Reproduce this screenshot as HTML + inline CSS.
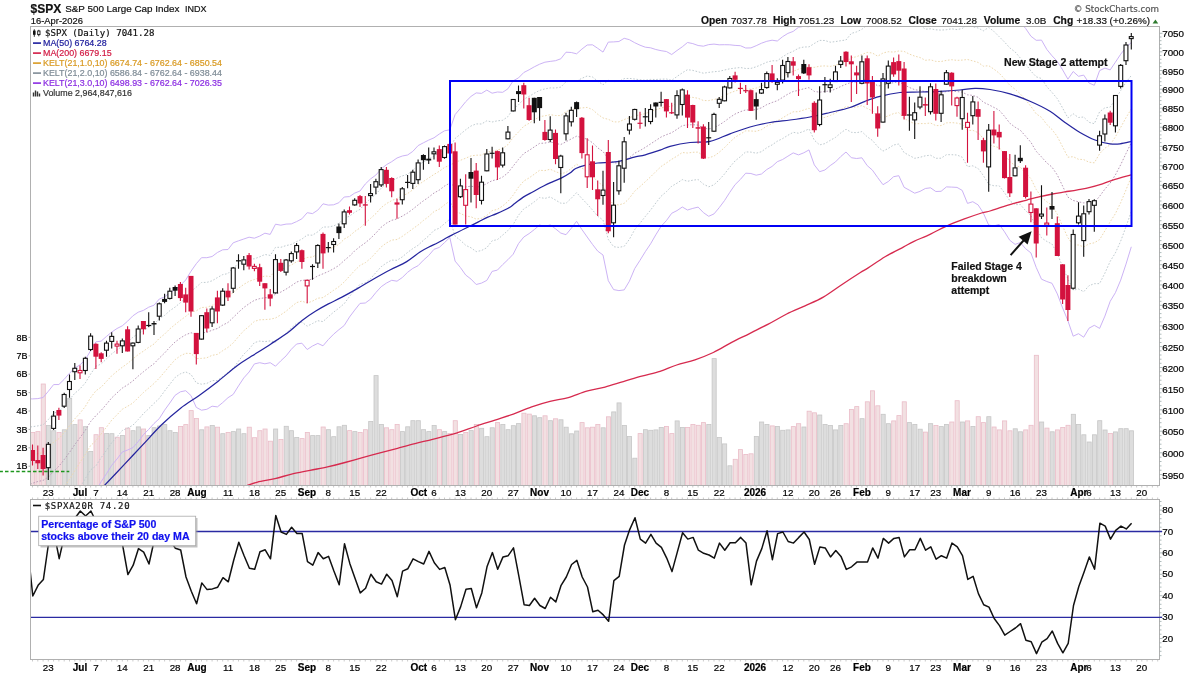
<!DOCTYPE html>
<html><head><meta charset="utf-8"><title>$SPX chart</title><style>html,body{margin:0;padding:0;background:#fff;width:1200px;height:675px;overflow:hidden}svg{display:block}</style></head><body>
<svg width="1200" height="675" viewBox="0 0 1200 675" style="will-change:transform">
<defs><clipPath id="mc"><rect x="31" y="27" width="1128" height="458"/></clipPath><clipPath id="ic"><rect x="31" y="500" width="1128" height="159.5"/></clipPath></defs>
<rect width="1200" height="675" fill="#fff"/>
<text x="30.6" y="12.8" font-family="Liberation Sans, Arial, sans-serif" font-size="12" font-weight="bold" fill="#111" stroke="#111" stroke-width="0.2">$SPX</text>
<text x="65.2" y="12.2" font-family="Liberation Sans, Arial, sans-serif" font-size="9.85" fill="#111" stroke="#111" stroke-width="0.2">S&amp;P 500 Large Cap Index</text>
<text x="185" y="12.2" font-family="Liberation Sans, Arial, sans-serif" font-size="9.0" fill="#111" stroke="#111" stroke-width="0.2">INDX</text>
<text x="30.8" y="24.2" font-family="Liberation Sans, Arial, sans-serif" font-size="9.4" fill="#111" stroke="#111" stroke-width="0.2">16-Apr-2026</text>
<text x="1159" y="12.3" text-anchor="end" font-family="DejaVu Sans, Verdana, sans-serif" font-size="8.7" fill="#555" stroke="#555" stroke-width="0.2">&#169; StockCharts.com</text>
<text x="701" y="24.2" font-family="Liberation Sans, Arial, sans-serif" font-size="10.3" font-weight="bold" fill="#111" stroke="#111" stroke-width="0.2">Open</text>
<text x="731" y="24.2" font-family="Liberation Sans, Arial, sans-serif" font-size="9.9"  fill="#111" stroke="#111" stroke-width="0.2">7037.78</text>
<text x="773" y="24.2" font-family="Liberation Sans, Arial, sans-serif" font-size="10.3" font-weight="bold" fill="#111" stroke="#111" stroke-width="0.2">High</text>
<text x="798.6" y="24.2" font-family="Liberation Sans, Arial, sans-serif" font-size="9.9"  fill="#111" stroke="#111" stroke-width="0.2">7051.23</text>
<text x="840.4" y="24.2" font-family="Liberation Sans, Arial, sans-serif" font-size="10.3" font-weight="bold" fill="#111" stroke="#111" stroke-width="0.2">Low</text>
<text x="866" y="24.2" font-family="Liberation Sans, Arial, sans-serif" font-size="9.9"  fill="#111" stroke="#111" stroke-width="0.2">7008.52</text>
<text x="908.6" y="24.2" font-family="Liberation Sans, Arial, sans-serif" font-size="10.3" font-weight="bold" fill="#111" stroke="#111" stroke-width="0.2">Close</text>
<text x="941.2" y="24.2" font-family="Liberation Sans, Arial, sans-serif" font-size="9.9"  fill="#111" stroke="#111" stroke-width="0.2">7041.28</text>
<text x="983.8" y="24.2" font-family="Liberation Sans, Arial, sans-serif" font-size="10.3" font-weight="bold" fill="#111" stroke="#111" stroke-width="0.2">Volume</text>
<text x="1026" y="24.2" font-family="Liberation Sans, Arial, sans-serif" font-size="9.9"  fill="#111" stroke="#111" stroke-width="0.2">3.0B</text>
<text x="1053.2" y="24.2" font-family="Liberation Sans, Arial, sans-serif" font-size="10.3" font-weight="bold" fill="#111" stroke="#111" stroke-width="0.2">Chg</text>
<text x="1076.4" y="24.2" font-family="Liberation Sans, Arial, sans-serif" font-size="9.9"  fill="#111" stroke="#111" stroke-width="0.2">+18.33 (+0.26%)</text>
<polygon points="1152.6,23.5 1158.2,23.5 1155.4,19.4" fill="#2d7a2d"/>
<rect x="30.5" y="26.5" width="1129" height="459" fill="#fff" stroke="#b0b0b0" stroke-width="1"/>
<rect x="30.5" y="499.5" width="1129" height="160" fill="#fff" stroke="#b0b0b0" stroke-width="1"/>
<path d="M32.5 486v1.5M32.5 499v-1.5M32.5 660v1.5M37.8 486v1.5M37.8 499v-1.5M37.8 660v1.5M43.1 486v1.5M43.1 499v-1.5M43.1 660v1.5M48.3 486v1.5M48.3 499v-1.5M48.3 660v1.5M53.6 486v1.5M53.6 499v-1.5M53.6 660v1.5M58.9 486v1.5M58.9 499v-1.5M58.9 660v1.5M64.2 486v1.5M64.2 499v-1.5M64.2 660v1.5M69.5 486v1.5M69.5 499v-1.5M69.5 660v1.5M74.8 486v1.5M74.8 499v-1.5M74.8 660v1.5M80 486v1.5M80 499v-1.5M80 660v1.5M85.3 486v1.5M85.3 499v-1.5M85.3 660v1.5M90.6 486v1.5M90.6 499v-1.5M90.6 660v1.5M95.9 486v1.5M95.9 499v-1.5M95.9 660v1.5M101.2 486v1.5M101.2 499v-1.5M101.2 660v1.5M106.5 486v1.5M106.5 499v-1.5M106.5 660v1.5M111.7 486v1.5M111.7 499v-1.5M111.7 660v1.5M117 486v1.5M117 499v-1.5M117 660v1.5M122.3 486v1.5M122.3 499v-1.5M122.3 660v1.5M127.6 486v1.5M127.6 499v-1.5M127.6 660v1.5M132.9 486v1.5M132.9 499v-1.5M132.9 660v1.5M138.2 486v1.5M138.2 499v-1.5M138.2 660v1.5M143.4 486v1.5M143.4 499v-1.5M143.4 660v1.5M148.7 486v1.5M148.7 499v-1.5M148.7 660v1.5M154 486v1.5M154 499v-1.5M154 660v1.5M159.3 486v1.5M159.3 499v-1.5M159.3 660v1.5M164.6 486v1.5M164.6 499v-1.5M164.6 660v1.5M169.8 486v1.5M169.8 499v-1.5M169.8 660v1.5M175.1 486v1.5M175.1 499v-1.5M175.1 660v1.5M180.4 486v1.5M180.4 499v-1.5M180.4 660v1.5M185.7 486v1.5M185.7 499v-1.5M185.7 660v1.5M191 486v1.5M191 499v-1.5M191 660v1.5M196.3 486v1.5M196.3 499v-1.5M196.3 660v1.5M201.5 486v1.5M201.5 499v-1.5M201.5 660v1.5M206.8 486v1.5M206.8 499v-1.5M206.8 660v1.5M212.1 486v1.5M212.1 499v-1.5M212.1 660v1.5M217.4 486v1.5M217.4 499v-1.5M217.4 660v1.5M222.7 486v1.5M222.7 499v-1.5M222.7 660v1.5M228 486v1.5M228 499v-1.5M228 660v1.5M233.2 486v1.5M233.2 499v-1.5M233.2 660v1.5M238.5 486v1.5M238.5 499v-1.5M238.5 660v1.5M243.8 486v1.5M243.8 499v-1.5M243.8 660v1.5M249.1 486v1.5M249.1 499v-1.5M249.1 660v1.5M254.4 486v1.5M254.4 499v-1.5M254.4 660v1.5M259.7 486v1.5M259.7 499v-1.5M259.7 660v1.5M264.9 486v1.5M264.9 499v-1.5M264.9 660v1.5M270.2 486v1.5M270.2 499v-1.5M270.2 660v1.5M275.5 486v1.5M275.5 499v-1.5M275.5 660v1.5M280.8 486v1.5M280.8 499v-1.5M280.8 660v1.5M286.1 486v1.5M286.1 499v-1.5M286.1 660v1.5M291.3 486v1.5M291.3 499v-1.5M291.3 660v1.5M296.6 486v1.5M296.6 499v-1.5M296.6 660v1.5M301.9 486v1.5M301.9 499v-1.5M301.9 660v1.5M307.2 486v1.5M307.2 499v-1.5M307.2 660v1.5M312.5 486v1.5M312.5 499v-1.5M312.5 660v1.5M317.8 486v1.5M317.8 499v-1.5M317.8 660v1.5M323 486v1.5M323 499v-1.5M323 660v1.5M328.3 486v1.5M328.3 499v-1.5M328.3 660v1.5M333.6 486v1.5M333.6 499v-1.5M333.6 660v1.5M338.9 486v1.5M338.9 499v-1.5M338.9 660v1.5M344.2 486v1.5M344.2 499v-1.5M344.2 660v1.5M349.5 486v1.5M349.5 499v-1.5M349.5 660v1.5M354.7 486v1.5M354.7 499v-1.5M354.7 660v1.5M360 486v1.5M360 499v-1.5M360 660v1.5M365.3 486v1.5M365.3 499v-1.5M365.3 660v1.5M370.6 486v1.5M370.6 499v-1.5M370.6 660v1.5M375.9 486v1.5M375.9 499v-1.5M375.9 660v1.5M381.2 486v1.5M381.2 499v-1.5M381.2 660v1.5M386.4 486v1.5M386.4 499v-1.5M386.4 660v1.5M391.7 486v1.5M391.7 499v-1.5M391.7 660v1.5M397 486v1.5M397 499v-1.5M397 660v1.5M402.3 486v1.5M402.3 499v-1.5M402.3 660v1.5M407.6 486v1.5M407.6 499v-1.5M407.6 660v1.5M412.8 486v1.5M412.8 499v-1.5M412.8 660v1.5M418.1 486v1.5M418.1 499v-1.5M418.1 660v1.5M423.4 486v1.5M423.4 499v-1.5M423.4 660v1.5M428.7 486v1.5M428.7 499v-1.5M428.7 660v1.5M434 486v1.5M434 499v-1.5M434 660v1.5M439.3 486v1.5M439.3 499v-1.5M439.3 660v1.5M444.5 486v1.5M444.5 499v-1.5M444.5 660v1.5M449.8 486v1.5M449.8 499v-1.5M449.8 660v1.5M455.1 486v1.5M455.1 499v-1.5M455.1 660v1.5M460.4 486v1.5M460.4 499v-1.5M460.4 660v1.5M465.7 486v1.5M465.7 499v-1.5M465.7 660v1.5M471 486v1.5M471 499v-1.5M471 660v1.5M476.2 486v1.5M476.2 499v-1.5M476.2 660v1.5M481.5 486v1.5M481.5 499v-1.5M481.5 660v1.5M486.8 486v1.5M486.8 499v-1.5M486.8 660v1.5M492.1 486v1.5M492.1 499v-1.5M492.1 660v1.5M497.4 486v1.5M497.4 499v-1.5M497.4 660v1.5M502.7 486v1.5M502.7 499v-1.5M502.7 660v1.5M507.9 486v1.5M507.9 499v-1.5M507.9 660v1.5M513.2 486v1.5M513.2 499v-1.5M513.2 660v1.5M518.5 486v1.5M518.5 499v-1.5M518.5 660v1.5M523.8 486v1.5M523.8 499v-1.5M523.8 660v1.5M529.1 486v1.5M529.1 499v-1.5M529.1 660v1.5M534.3 486v1.5M534.3 499v-1.5M534.3 660v1.5M539.6 486v1.5M539.6 499v-1.5M539.6 660v1.5M544.9 486v1.5M544.9 499v-1.5M544.9 660v1.5M550.2 486v1.5M550.2 499v-1.5M550.2 660v1.5M555.5 486v1.5M555.5 499v-1.5M555.5 660v1.5M560.8 486v1.5M560.8 499v-1.5M560.8 660v1.5M566 486v1.5M566 499v-1.5M566 660v1.5M571.3 486v1.5M571.3 499v-1.5M571.3 660v1.5M576.6 486v1.5M576.6 499v-1.5M576.6 660v1.5M581.9 486v1.5M581.9 499v-1.5M581.9 660v1.5M587.2 486v1.5M587.2 499v-1.5M587.2 660v1.5M592.5 486v1.5M592.5 499v-1.5M592.5 660v1.5M597.7 486v1.5M597.7 499v-1.5M597.7 660v1.5M603 486v1.5M603 499v-1.5M603 660v1.5M608.3 486v1.5M608.3 499v-1.5M608.3 660v1.5M613.6 486v1.5M613.6 499v-1.5M613.6 660v1.5M618.9 486v1.5M618.9 499v-1.5M618.9 660v1.5M624.2 486v1.5M624.2 499v-1.5M624.2 660v1.5M629.4 486v1.5M629.4 499v-1.5M629.4 660v1.5M634.7 486v1.5M634.7 499v-1.5M634.7 660v1.5M640 486v1.5M640 499v-1.5M640 660v1.5M645.3 486v1.5M645.3 499v-1.5M645.3 660v1.5M650.6 486v1.5M650.6 499v-1.5M650.6 660v1.5M655.8 486v1.5M655.8 499v-1.5M655.8 660v1.5M661.1 486v1.5M661.1 499v-1.5M661.1 660v1.5M666.4 486v1.5M666.4 499v-1.5M666.4 660v1.5M671.7 486v1.5M671.7 499v-1.5M671.7 660v1.5M677 486v1.5M677 499v-1.5M677 660v1.5M682.3 486v1.5M682.3 499v-1.5M682.3 660v1.5M687.5 486v1.5M687.5 499v-1.5M687.5 660v1.5M692.8 486v1.5M692.8 499v-1.5M692.8 660v1.5M698.1 486v1.5M698.1 499v-1.5M698.1 660v1.5M703.4 486v1.5M703.4 499v-1.5M703.4 660v1.5M708.7 486v1.5M708.7 499v-1.5M708.7 660v1.5M714 486v1.5M714 499v-1.5M714 660v1.5M719.2 486v1.5M719.2 499v-1.5M719.2 660v1.5M724.5 486v1.5M724.5 499v-1.5M724.5 660v1.5M729.8 486v1.5M729.8 499v-1.5M729.8 660v1.5M735.1 486v1.5M735.1 499v-1.5M735.1 660v1.5M740.4 486v1.5M740.4 499v-1.5M740.4 660v1.5M745.7 486v1.5M745.7 499v-1.5M745.7 660v1.5M750.9 486v1.5M750.9 499v-1.5M750.9 660v1.5M756.2 486v1.5M756.2 499v-1.5M756.2 660v1.5M761.5 486v1.5M761.5 499v-1.5M761.5 660v1.5M766.8 486v1.5M766.8 499v-1.5M766.8 660v1.5M772.1 486v1.5M772.1 499v-1.5M772.1 660v1.5M777.3 486v1.5M777.3 499v-1.5M777.3 660v1.5M782.6 486v1.5M782.6 499v-1.5M782.6 660v1.5M787.9 486v1.5M787.9 499v-1.5M787.9 660v1.5M793.2 486v1.5M793.2 499v-1.5M793.2 660v1.5M798.5 486v1.5M798.5 499v-1.5M798.5 660v1.5M803.8 486v1.5M803.8 499v-1.5M803.8 660v1.5M809 486v1.5M809 499v-1.5M809 660v1.5M814.3 486v1.5M814.3 499v-1.5M814.3 660v1.5M819.6 486v1.5M819.6 499v-1.5M819.6 660v1.5M824.9 486v1.5M824.9 499v-1.5M824.9 660v1.5M830.2 486v1.5M830.2 499v-1.5M830.2 660v1.5M835.5 486v1.5M835.5 499v-1.5M835.5 660v1.5M840.7 486v1.5M840.7 499v-1.5M840.7 660v1.5M846 486v1.5M846 499v-1.5M846 660v1.5M851.3 486v1.5M851.3 499v-1.5M851.3 660v1.5M856.6 486v1.5M856.6 499v-1.5M856.6 660v1.5M861.9 486v1.5M861.9 499v-1.5M861.9 660v1.5M867.2 486v1.5M867.2 499v-1.5M867.2 660v1.5M872.4 486v1.5M872.4 499v-1.5M872.4 660v1.5M877.7 486v1.5M877.7 499v-1.5M877.7 660v1.5M883 486v1.5M883 499v-1.5M883 660v1.5M888.3 486v1.5M888.3 499v-1.5M888.3 660v1.5M893.6 486v1.5M893.6 499v-1.5M893.6 660v1.5M898.8 486v1.5M898.8 499v-1.5M898.8 660v1.5M904.1 486v1.5M904.1 499v-1.5M904.1 660v1.5M909.4 486v1.5M909.4 499v-1.5M909.4 660v1.5M914.7 486v1.5M914.7 499v-1.5M914.7 660v1.5M920 486v1.5M920 499v-1.5M920 660v1.5M925.3 486v1.5M925.3 499v-1.5M925.3 660v1.5M930.5 486v1.5M930.5 499v-1.5M930.5 660v1.5M935.8 486v1.5M935.8 499v-1.5M935.8 660v1.5M941.1 486v1.5M941.1 499v-1.5M941.1 660v1.5M946.4 486v1.5M946.4 499v-1.5M946.4 660v1.5M951.7 486v1.5M951.7 499v-1.5M951.7 660v1.5M957 486v1.5M957 499v-1.5M957 660v1.5M962.2 486v1.5M962.2 499v-1.5M962.2 660v1.5M967.5 486v1.5M967.5 499v-1.5M967.5 660v1.5M972.8 486v1.5M972.8 499v-1.5M972.8 660v1.5M978.1 486v1.5M978.1 499v-1.5M978.1 660v1.5M983.4 486v1.5M983.4 499v-1.5M983.4 660v1.5M988.7 486v1.5M988.7 499v-1.5M988.7 660v1.5M993.9 486v1.5M993.9 499v-1.5M993.9 660v1.5M999.2 486v1.5M999.2 499v-1.5M999.2 660v1.5M1004.5 486v1.5M1004.5 499v-1.5M1004.5 660v1.5M1009.8 486v1.5M1009.8 499v-1.5M1009.8 660v1.5M1015.1 486v1.5M1015.1 499v-1.5M1015.1 660v1.5M1020.3 486v1.5M1020.3 499v-1.5M1020.3 660v1.5M1025.6 486v1.5M1025.6 499v-1.5M1025.6 660v1.5M1030.9 486v1.5M1030.9 499v-1.5M1030.9 660v1.5M1036.2 486v1.5M1036.2 499v-1.5M1036.2 660v1.5M1041.5 486v1.5M1041.5 499v-1.5M1041.5 660v1.5M1046.8 486v1.5M1046.8 499v-1.5M1046.8 660v1.5M1052 486v1.5M1052 499v-1.5M1052 660v1.5M1057.3 486v1.5M1057.3 499v-1.5M1057.3 660v1.5M1062.6 486v1.5M1062.6 499v-1.5M1062.6 660v1.5M1067.9 486v1.5M1067.9 499v-1.5M1067.9 660v1.5M1073.2 486v1.5M1073.2 499v-1.5M1073.2 660v1.5M1078.5 486v1.5M1078.5 499v-1.5M1078.5 660v1.5M1083.7 486v1.5M1083.7 499v-1.5M1083.7 660v1.5M1089 486v1.5M1089 499v-1.5M1089 660v1.5M1094.3 486v1.5M1094.3 499v-1.5M1094.3 660v1.5M1099.6 486v1.5M1099.6 499v-1.5M1099.6 660v1.5M1104.9 486v1.5M1104.9 499v-1.5M1104.9 660v1.5M1110.2 486v1.5M1110.2 499v-1.5M1110.2 660v1.5M1115.4 486v1.5M1115.4 499v-1.5M1115.4 660v1.5M1120.7 486v1.5M1120.7 499v-1.5M1120.7 660v1.5M1126 486v1.5M1126 499v-1.5M1126 660v1.5M1131.3 486v1.5M1131.3 499v-1.5M1131.3 660v1.5M1136.6 486v1.5M1136.6 499v-1.5M1136.6 660v1.5M1141.8 486v1.5M1141.8 499v-1.5M1141.8 660v1.5M1147.1 486v1.5M1147.1 499v-1.5M1147.1 660v1.5M1152.4 486v1.5M1152.4 499v-1.5M1152.4 660v1.5M1157.7 486v1.5M1157.7 499v-1.5M1157.7 660v1.5" stroke="#c4c4c4" stroke-width="0.9" fill="none"/>
<path d="M1159.5 479h2M1159.5 474.6h3M1159.5 470.2h2M1159.5 465.9h2M1159.5 461.5h2M1159.5 457.2h2M1159.5 452.8h3M1159.5 448.5h2M1159.5 444.2h2M1159.5 439.9h2M1159.5 435.6h2M1159.5 431.2h3M1159.5 427h2M1159.5 422.7h2M1159.5 418.4h2M1159.5 414.1h2M1159.5 409.8h3M1159.5 405.6h2M1159.5 401.3h2M1159.5 397.1h2M1159.5 392.8h2M1159.5 388.6h3M1159.5 384.4h2M1159.5 380.2h2M1159.5 375.9h2M1159.5 371.7h2M1159.5 367.5h3M1159.5 363.3h2M1159.5 359.2h2M1159.5 355h2M1159.5 350.8h2M1159.5 346.6h3M1159.5 342.5h2M1159.5 338.3h2M1159.5 334.2h2M1159.5 330h2M1159.5 325.9h3M1159.5 321.8h2M1159.5 317.7h2M1159.5 313.6h2M1159.5 309.4h2M1159.5 305.3h3M1159.5 301.3h2M1159.5 297.2h2M1159.5 293.1h2M1159.5 289h2M1159.5 284.9h3M1159.5 280.9h2M1159.5 276.8h2M1159.5 272.8h2M1159.5 268.7h2M1159.5 264.7h3M1159.5 260.7h2M1159.5 256.6h2M1159.5 252.6h2M1159.5 248.6h2M1159.5 244.6h3M1159.5 240.6h2M1159.5 236.6h2M1159.5 232.6h2M1159.5 228.6h2M1159.5 224.7h3M1159.5 220.7h2M1159.5 216.7h2M1159.5 212.8h2M1159.5 208.8h2M1159.5 204.9h3M1159.5 201h2M1159.5 197h2M1159.5 193.1h2M1159.5 189.2h2M1159.5 185.3h3M1159.5 181.3h2M1159.5 177.4h2M1159.5 173.5h2M1159.5 169.7h2M1159.5 165.8h3M1159.5 161.9h2M1159.5 158h2M1159.5 154.1h2M1159.5 150.3h2M1159.5 146.4h3M1159.5 142.6h2M1159.5 138.7h2M1159.5 134.9h2M1159.5 131.1h2M1159.5 127.2h3M1159.5 123.4h2M1159.5 119.6h2M1159.5 115.8h2M1159.5 112h2M1159.5 108.2h3M1159.5 104.4h2M1159.5 100.6h2M1159.5 96.8h2M1159.5 93h2M1159.5 89.2h3M1159.5 85.5h2M1159.5 81.7h2M1159.5 78h2M1159.5 74.2h2M1159.5 70.5h3M1159.5 66.7h2M1159.5 63h2M1159.5 59.3h2M1159.5 55.5h2M1159.5 51.8h3M1159.5 48.1h2M1159.5 44.4h2M1159.5 40.7h2M1159.5 37h2M1159.5 33.3h3M1159.5 655.6h2M1159.5 651.3h2M1159.5 647.1h2M1159.5 642.8h2M1159.5 638.5h3M1159.5 634.2h2M1159.5 629.9h2M1159.5 625.7h2M1159.5 621.4h2M1159.5 617.1h3M1159.5 612.8h2M1159.5 608.5h2M1159.5 604.3h2M1159.5 600h2M1159.5 595.7h3M1159.5 591.4h2M1159.5 587.1h2M1159.5 582.9h2M1159.5 578.6h2M1159.5 574.3h3M1159.5 570h2M1159.5 565.7h2M1159.5 561.5h2M1159.5 557.2h2M1159.5 552.9h3M1159.5 548.6h2M1159.5 544.3h2M1159.5 540.1h2M1159.5 535.8h2M1159.5 531.5h3M1159.5 527.2h2M1159.5 522.9h2M1159.5 518.7h2M1159.5 514.4h2M1159.5 510.1h3M1159.5 505.8h2M1159.5 501.5h2" stroke="#9aa" stroke-width="0.8" fill="none"/>
<text x="1162.2" y="478.7" font-family="Liberation Sans, Arial, sans-serif" font-size="9.8" fill="#000" stroke="#000" stroke-width="0.2">5950</text>
<text x="1162.2" y="456.9" font-family="Liberation Sans, Arial, sans-serif" font-size="9.8" fill="#000" stroke="#000" stroke-width="0.2">6000</text>
<text x="1162.2" y="435.3" font-family="Liberation Sans, Arial, sans-serif" font-size="9.8" fill="#000" stroke="#000" stroke-width="0.2">6050</text>
<text x="1162.2" y="413.9" font-family="Liberation Sans, Arial, sans-serif" font-size="9.8" fill="#000" stroke="#000" stroke-width="0.2">6100</text>
<text x="1162.2" y="392.7" font-family="Liberation Sans, Arial, sans-serif" font-size="9.8" fill="#000" stroke="#000" stroke-width="0.2">6150</text>
<text x="1162.2" y="371.6" font-family="Liberation Sans, Arial, sans-serif" font-size="9.8" fill="#000" stroke="#000" stroke-width="0.2">6200</text>
<text x="1162.2" y="350.7" font-family="Liberation Sans, Arial, sans-serif" font-size="9.8" fill="#000" stroke="#000" stroke-width="0.2">6250</text>
<text x="1162.2" y="330" font-family="Liberation Sans, Arial, sans-serif" font-size="9.8" fill="#000" stroke="#000" stroke-width="0.2">6300</text>
<text x="1162.2" y="309.4" font-family="Liberation Sans, Arial, sans-serif" font-size="9.8" fill="#000" stroke="#000" stroke-width="0.2">6350</text>
<text x="1162.2" y="289" font-family="Liberation Sans, Arial, sans-serif" font-size="9.8" fill="#000" stroke="#000" stroke-width="0.2">6400</text>
<text x="1162.2" y="268.8" font-family="Liberation Sans, Arial, sans-serif" font-size="9.8" fill="#000" stroke="#000" stroke-width="0.2">6450</text>
<text x="1162.2" y="248.7" font-family="Liberation Sans, Arial, sans-serif" font-size="9.8" fill="#000" stroke="#000" stroke-width="0.2">6500</text>
<text x="1162.2" y="228.8" font-family="Liberation Sans, Arial, sans-serif" font-size="9.8" fill="#000" stroke="#000" stroke-width="0.2">6550</text>
<text x="1162.2" y="209" font-family="Liberation Sans, Arial, sans-serif" font-size="9.8" fill="#000" stroke="#000" stroke-width="0.2">6600</text>
<text x="1162.2" y="189.4" font-family="Liberation Sans, Arial, sans-serif" font-size="9.8" fill="#000" stroke="#000" stroke-width="0.2">6650</text>
<text x="1162.2" y="169.9" font-family="Liberation Sans, Arial, sans-serif" font-size="9.8" fill="#000" stroke="#000" stroke-width="0.2">6700</text>
<text x="1162.2" y="150.5" font-family="Liberation Sans, Arial, sans-serif" font-size="9.8" fill="#000" stroke="#000" stroke-width="0.2">6750</text>
<text x="1162.2" y="131.3" font-family="Liberation Sans, Arial, sans-serif" font-size="9.8" fill="#000" stroke="#000" stroke-width="0.2">6800</text>
<text x="1162.2" y="112.3" font-family="Liberation Sans, Arial, sans-serif" font-size="9.8" fill="#000" stroke="#000" stroke-width="0.2">6850</text>
<text x="1162.2" y="93.3" font-family="Liberation Sans, Arial, sans-serif" font-size="9.8" fill="#000" stroke="#000" stroke-width="0.2">6900</text>
<text x="1162.2" y="74.6" font-family="Liberation Sans, Arial, sans-serif" font-size="9.8" fill="#000" stroke="#000" stroke-width="0.2">6950</text>
<text x="1162.2" y="55.9" font-family="Liberation Sans, Arial, sans-serif" font-size="9.8" fill="#000" stroke="#000" stroke-width="0.2">7000</text>
<text x="1162.2" y="37.4" font-family="Liberation Sans, Arial, sans-serif" font-size="9.8" fill="#000" stroke="#000" stroke-width="0.2">7050</text>
<text x="1162.2" y="513.2" font-family="Liberation Sans, Arial, sans-serif" font-size="9.8" fill="#000" stroke="#000" stroke-width="0.2">80</text>
<text x="1162.2" y="534.6" font-family="Liberation Sans, Arial, sans-serif" font-size="9.8" fill="#000" stroke="#000" stroke-width="0.2">70</text>
<text x="1162.2" y="556" font-family="Liberation Sans, Arial, sans-serif" font-size="9.8" fill="#000" stroke="#000" stroke-width="0.2">60</text>
<text x="1162.2" y="577.4" font-family="Liberation Sans, Arial, sans-serif" font-size="9.8" fill="#000" stroke="#000" stroke-width="0.2">50</text>
<text x="1162.2" y="598.9" font-family="Liberation Sans, Arial, sans-serif" font-size="9.8" fill="#000" stroke="#000" stroke-width="0.2">40</text>
<text x="1162.2" y="620.3" font-family="Liberation Sans, Arial, sans-serif" font-size="9.8" fill="#000" stroke="#000" stroke-width="0.2">30</text>
<text x="1162.2" y="641.7" font-family="Liberation Sans, Arial, sans-serif" font-size="9.8" fill="#000" stroke="#000" stroke-width="0.2">20</text>
<text x="27.4" y="469.4" text-anchor="end" font-family="Liberation Sans, Arial, sans-serif" font-size="9" fill="#000" stroke="#000" stroke-width="0.2">1B</text>
<path d="M30 466.2h-1.5" stroke="#999" stroke-width="0.8"/>
<text x="27.4" y="451" text-anchor="end" font-family="Liberation Sans, Arial, sans-serif" font-size="9" fill="#000" stroke="#000" stroke-width="0.2">2B</text>
<path d="M30 447.8h-1.5" stroke="#999" stroke-width="0.8"/>
<text x="27.4" y="432.6" text-anchor="end" font-family="Liberation Sans, Arial, sans-serif" font-size="9" fill="#000" stroke="#000" stroke-width="0.2">3B</text>
<path d="M30 429.4h-1.5" stroke="#999" stroke-width="0.8"/>
<text x="27.4" y="414.2" text-anchor="end" font-family="Liberation Sans, Arial, sans-serif" font-size="9" fill="#000" stroke="#000" stroke-width="0.2">4B</text>
<path d="M30 411h-1.5" stroke="#999" stroke-width="0.8"/>
<text x="27.4" y="395.8" text-anchor="end" font-family="Liberation Sans, Arial, sans-serif" font-size="9" fill="#000" stroke="#000" stroke-width="0.2">5B</text>
<path d="M30 392.6h-1.5" stroke="#999" stroke-width="0.8"/>
<text x="27.4" y="377.4" text-anchor="end" font-family="Liberation Sans, Arial, sans-serif" font-size="9" fill="#000" stroke="#000" stroke-width="0.2">6B</text>
<path d="M30 374.2h-1.5" stroke="#999" stroke-width="0.8"/>
<text x="27.4" y="359" text-anchor="end" font-family="Liberation Sans, Arial, sans-serif" font-size="9" fill="#000" stroke="#000" stroke-width="0.2">7B</text>
<path d="M30 355.8h-1.5" stroke="#999" stroke-width="0.8"/>
<text x="27.4" y="340.6" text-anchor="end" font-family="Liberation Sans, Arial, sans-serif" font-size="9" fill="#000" stroke="#000" stroke-width="0.2">8B</text>
<path d="M30 337.4h-1.5" stroke="#999" stroke-width="0.8"/>
<text x="48.3" y="496" text-anchor="middle" font-family="Liberation Sans, Arial, sans-serif" font-size="9.8"  fill="#000" stroke="#000" stroke-width="0.2">23</text>
<text x="48.3" y="670.6" text-anchor="middle" font-family="Liberation Sans, Arial, sans-serif" font-size="9.8"  fill="#000" stroke="#000" stroke-width="0.2">23</text>
<text x="80" y="496" text-anchor="middle" font-family="Liberation Sans, Arial, sans-serif" font-size="10" font-weight="bold" fill="#000" stroke="#000" stroke-width="0.2">Jul</text>
<text x="80" y="670.6" text-anchor="middle" font-family="Liberation Sans, Arial, sans-serif" font-size="10" font-weight="bold" fill="#000" stroke="#000" stroke-width="0.2">Jul</text>
<text x="95.9" y="496" text-anchor="middle" font-family="Liberation Sans, Arial, sans-serif" font-size="9.8"  fill="#000" stroke="#000" stroke-width="0.2">7</text>
<text x="95.9" y="670.6" text-anchor="middle" font-family="Liberation Sans, Arial, sans-serif" font-size="9.8"  fill="#000" stroke="#000" stroke-width="0.2">7</text>
<text x="122.3" y="496" text-anchor="middle" font-family="Liberation Sans, Arial, sans-serif" font-size="9.8"  fill="#000" stroke="#000" stroke-width="0.2">14</text>
<text x="122.3" y="670.6" text-anchor="middle" font-family="Liberation Sans, Arial, sans-serif" font-size="9.8"  fill="#000" stroke="#000" stroke-width="0.2">14</text>
<text x="148.7" y="496" text-anchor="middle" font-family="Liberation Sans, Arial, sans-serif" font-size="9.8"  fill="#000" stroke="#000" stroke-width="0.2">21</text>
<text x="148.7" y="670.6" text-anchor="middle" font-family="Liberation Sans, Arial, sans-serif" font-size="9.8"  fill="#000" stroke="#000" stroke-width="0.2">21</text>
<text x="175.1" y="496" text-anchor="middle" font-family="Liberation Sans, Arial, sans-serif" font-size="9.8"  fill="#000" stroke="#000" stroke-width="0.2">28</text>
<text x="175.1" y="670.6" text-anchor="middle" font-family="Liberation Sans, Arial, sans-serif" font-size="9.8"  fill="#000" stroke="#000" stroke-width="0.2">28</text>
<text x="197" y="496" text-anchor="middle" font-family="Liberation Sans, Arial, sans-serif" font-size="10" font-weight="bold" fill="#000" stroke="#000" stroke-width="0.2">Aug</text>
<text x="197" y="670.6" text-anchor="middle" font-family="Liberation Sans, Arial, sans-serif" font-size="10" font-weight="bold" fill="#000" stroke="#000" stroke-width="0.2">Aug</text>
<text x="228" y="496" text-anchor="middle" font-family="Liberation Sans, Arial, sans-serif" font-size="9.8"  fill="#000" stroke="#000" stroke-width="0.2">11</text>
<text x="228" y="670.6" text-anchor="middle" font-family="Liberation Sans, Arial, sans-serif" font-size="9.8"  fill="#000" stroke="#000" stroke-width="0.2">11</text>
<text x="254.4" y="496" text-anchor="middle" font-family="Liberation Sans, Arial, sans-serif" font-size="9.8"  fill="#000" stroke="#000" stroke-width="0.2">18</text>
<text x="254.4" y="670.6" text-anchor="middle" font-family="Liberation Sans, Arial, sans-serif" font-size="9.8"  fill="#000" stroke="#000" stroke-width="0.2">18</text>
<text x="280.8" y="496" text-anchor="middle" font-family="Liberation Sans, Arial, sans-serif" font-size="9.8"  fill="#000" stroke="#000" stroke-width="0.2">25</text>
<text x="280.8" y="670.6" text-anchor="middle" font-family="Liberation Sans, Arial, sans-serif" font-size="9.8"  fill="#000" stroke="#000" stroke-width="0.2">25</text>
<text x="307" y="496" text-anchor="middle" font-family="Liberation Sans, Arial, sans-serif" font-size="10" font-weight="bold" fill="#000" stroke="#000" stroke-width="0.2">Sep</text>
<text x="307" y="670.6" text-anchor="middle" font-family="Liberation Sans, Arial, sans-serif" font-size="10" font-weight="bold" fill="#000" stroke="#000" stroke-width="0.2">Sep</text>
<text x="328.3" y="496" text-anchor="middle" font-family="Liberation Sans, Arial, sans-serif" font-size="9.8"  fill="#000" stroke="#000" stroke-width="0.2">8</text>
<text x="328.3" y="670.6" text-anchor="middle" font-family="Liberation Sans, Arial, sans-serif" font-size="9.8"  fill="#000" stroke="#000" stroke-width="0.2">8</text>
<text x="354.7" y="496" text-anchor="middle" font-family="Liberation Sans, Arial, sans-serif" font-size="9.8"  fill="#000" stroke="#000" stroke-width="0.2">15</text>
<text x="354.7" y="670.6" text-anchor="middle" font-family="Liberation Sans, Arial, sans-serif" font-size="9.8"  fill="#000" stroke="#000" stroke-width="0.2">15</text>
<text x="381.2" y="496" text-anchor="middle" font-family="Liberation Sans, Arial, sans-serif" font-size="9.8"  fill="#000" stroke="#000" stroke-width="0.2">22</text>
<text x="381.2" y="670.6" text-anchor="middle" font-family="Liberation Sans, Arial, sans-serif" font-size="9.8"  fill="#000" stroke="#000" stroke-width="0.2">22</text>
<text x="418.8" y="496" text-anchor="middle" font-family="Liberation Sans, Arial, sans-serif" font-size="10" font-weight="bold" fill="#000" stroke="#000" stroke-width="0.2">Oct</text>
<text x="418.8" y="670.6" text-anchor="middle" font-family="Liberation Sans, Arial, sans-serif" font-size="10" font-weight="bold" fill="#000" stroke="#000" stroke-width="0.2">Oct</text>
<text x="434" y="496" text-anchor="middle" font-family="Liberation Sans, Arial, sans-serif" font-size="9.8"  fill="#000" stroke="#000" stroke-width="0.2">6</text>
<text x="434" y="670.6" text-anchor="middle" font-family="Liberation Sans, Arial, sans-serif" font-size="9.8"  fill="#000" stroke="#000" stroke-width="0.2">6</text>
<text x="460.4" y="496" text-anchor="middle" font-family="Liberation Sans, Arial, sans-serif" font-size="9.8"  fill="#000" stroke="#000" stroke-width="0.2">13</text>
<text x="460.4" y="670.6" text-anchor="middle" font-family="Liberation Sans, Arial, sans-serif" font-size="9.8"  fill="#000" stroke="#000" stroke-width="0.2">13</text>
<text x="486.8" y="496" text-anchor="middle" font-family="Liberation Sans, Arial, sans-serif" font-size="9.8"  fill="#000" stroke="#000" stroke-width="0.2">20</text>
<text x="486.8" y="670.6" text-anchor="middle" font-family="Liberation Sans, Arial, sans-serif" font-size="9.8"  fill="#000" stroke="#000" stroke-width="0.2">20</text>
<text x="513.2" y="496" text-anchor="middle" font-family="Liberation Sans, Arial, sans-serif" font-size="9.8"  fill="#000" stroke="#000" stroke-width="0.2">27</text>
<text x="513.2" y="670.6" text-anchor="middle" font-family="Liberation Sans, Arial, sans-serif" font-size="9.8"  fill="#000" stroke="#000" stroke-width="0.2">27</text>
<text x="539.5" y="496" text-anchor="middle" font-family="Liberation Sans, Arial, sans-serif" font-size="10" font-weight="bold" fill="#000" stroke="#000" stroke-width="0.2">Nov</text>
<text x="539.5" y="670.6" text-anchor="middle" font-family="Liberation Sans, Arial, sans-serif" font-size="10" font-weight="bold" fill="#000" stroke="#000" stroke-width="0.2">Nov</text>
<text x="566" y="496" text-anchor="middle" font-family="Liberation Sans, Arial, sans-serif" font-size="9.8"  fill="#000" stroke="#000" stroke-width="0.2">10</text>
<text x="566" y="670.6" text-anchor="middle" font-family="Liberation Sans, Arial, sans-serif" font-size="9.8"  fill="#000" stroke="#000" stroke-width="0.2">10</text>
<text x="592.5" y="496" text-anchor="middle" font-family="Liberation Sans, Arial, sans-serif" font-size="9.8"  fill="#000" stroke="#000" stroke-width="0.2">17</text>
<text x="592.5" y="670.6" text-anchor="middle" font-family="Liberation Sans, Arial, sans-serif" font-size="9.8"  fill="#000" stroke="#000" stroke-width="0.2">17</text>
<text x="618.9" y="496" text-anchor="middle" font-family="Liberation Sans, Arial, sans-serif" font-size="9.8"  fill="#000" stroke="#000" stroke-width="0.2">24</text>
<text x="618.9" y="670.6" text-anchor="middle" font-family="Liberation Sans, Arial, sans-serif" font-size="9.8"  fill="#000" stroke="#000" stroke-width="0.2">24</text>
<text x="640" y="496" text-anchor="middle" font-family="Liberation Sans, Arial, sans-serif" font-size="10" font-weight="bold" fill="#000" stroke="#000" stroke-width="0.2">Dec</text>
<text x="640" y="670.6" text-anchor="middle" font-family="Liberation Sans, Arial, sans-serif" font-size="10" font-weight="bold" fill="#000" stroke="#000" stroke-width="0.2">Dec</text>
<text x="666.4" y="496" text-anchor="middle" font-family="Liberation Sans, Arial, sans-serif" font-size="9.8"  fill="#000" stroke="#000" stroke-width="0.2">8</text>
<text x="666.4" y="670.6" text-anchor="middle" font-family="Liberation Sans, Arial, sans-serif" font-size="9.8"  fill="#000" stroke="#000" stroke-width="0.2">8</text>
<text x="692.8" y="496" text-anchor="middle" font-family="Liberation Sans, Arial, sans-serif" font-size="9.8"  fill="#000" stroke="#000" stroke-width="0.2">15</text>
<text x="692.8" y="670.6" text-anchor="middle" font-family="Liberation Sans, Arial, sans-serif" font-size="9.8"  fill="#000" stroke="#000" stroke-width="0.2">15</text>
<text x="719.2" y="496" text-anchor="middle" font-family="Liberation Sans, Arial, sans-serif" font-size="9.8"  fill="#000" stroke="#000" stroke-width="0.2">22</text>
<text x="719.2" y="670.6" text-anchor="middle" font-family="Liberation Sans, Arial, sans-serif" font-size="9.8"  fill="#000" stroke="#000" stroke-width="0.2">22</text>
<text x="755" y="496" text-anchor="middle" font-family="Liberation Sans, Arial, sans-serif" font-size="10" font-weight="bold" fill="#000" stroke="#000" stroke-width="0.2">2026</text>
<text x="755" y="670.6" text-anchor="middle" font-family="Liberation Sans, Arial, sans-serif" font-size="10" font-weight="bold" fill="#000" stroke="#000" stroke-width="0.2">2026</text>
<text x="787.9" y="496" text-anchor="middle" font-family="Liberation Sans, Arial, sans-serif" font-size="9.8"  fill="#000" stroke="#000" stroke-width="0.2">12</text>
<text x="787.9" y="670.6" text-anchor="middle" font-family="Liberation Sans, Arial, sans-serif" font-size="9.8"  fill="#000" stroke="#000" stroke-width="0.2">12</text>
<text x="814.3" y="496" text-anchor="middle" font-family="Liberation Sans, Arial, sans-serif" font-size="9.8"  fill="#000" stroke="#000" stroke-width="0.2">20</text>
<text x="814.3" y="670.6" text-anchor="middle" font-family="Liberation Sans, Arial, sans-serif" font-size="9.8"  fill="#000" stroke="#000" stroke-width="0.2">20</text>
<text x="835.5" y="496" text-anchor="middle" font-family="Liberation Sans, Arial, sans-serif" font-size="9.8"  fill="#000" stroke="#000" stroke-width="0.2">26</text>
<text x="835.5" y="670.6" text-anchor="middle" font-family="Liberation Sans, Arial, sans-serif" font-size="9.8"  fill="#000" stroke="#000" stroke-width="0.2">26</text>
<text x="862" y="496" text-anchor="middle" font-family="Liberation Sans, Arial, sans-serif" font-size="10" font-weight="bold" fill="#000" stroke="#000" stroke-width="0.2">Feb</text>
<text x="862" y="670.6" text-anchor="middle" font-family="Liberation Sans, Arial, sans-serif" font-size="10" font-weight="bold" fill="#000" stroke="#000" stroke-width="0.2">Feb</text>
<text x="888.3" y="496" text-anchor="middle" font-family="Liberation Sans, Arial, sans-serif" font-size="9.8"  fill="#000" stroke="#000" stroke-width="0.2">9</text>
<text x="888.3" y="670.6" text-anchor="middle" font-family="Liberation Sans, Arial, sans-serif" font-size="9.8"  fill="#000" stroke="#000" stroke-width="0.2">9</text>
<text x="914.7" y="496" text-anchor="middle" font-family="Liberation Sans, Arial, sans-serif" font-size="9.8"  fill="#000" stroke="#000" stroke-width="0.2">17</text>
<text x="914.7" y="670.6" text-anchor="middle" font-family="Liberation Sans, Arial, sans-serif" font-size="9.8"  fill="#000" stroke="#000" stroke-width="0.2">17</text>
<text x="935.8" y="496" text-anchor="middle" font-family="Liberation Sans, Arial, sans-serif" font-size="9.8"  fill="#000" stroke="#000" stroke-width="0.2">23</text>
<text x="935.8" y="670.6" text-anchor="middle" font-family="Liberation Sans, Arial, sans-serif" font-size="9.8"  fill="#000" stroke="#000" stroke-width="0.2">23</text>
<text x="962" y="496" text-anchor="middle" font-family="Liberation Sans, Arial, sans-serif" font-size="10" font-weight="bold" fill="#000" stroke="#000" stroke-width="0.2">Mar</text>
<text x="962" y="670.6" text-anchor="middle" font-family="Liberation Sans, Arial, sans-serif" font-size="10" font-weight="bold" fill="#000" stroke="#000" stroke-width="0.2">Mar</text>
<text x="988.7" y="496" text-anchor="middle" font-family="Liberation Sans, Arial, sans-serif" font-size="9.8"  fill="#000" stroke="#000" stroke-width="0.2">9</text>
<text x="988.7" y="670.6" text-anchor="middle" font-family="Liberation Sans, Arial, sans-serif" font-size="9.8"  fill="#000" stroke="#000" stroke-width="0.2">9</text>
<text x="1015.1" y="496" text-anchor="middle" font-family="Liberation Sans, Arial, sans-serif" font-size="9.8"  fill="#000" stroke="#000" stroke-width="0.2">16</text>
<text x="1015.1" y="670.6" text-anchor="middle" font-family="Liberation Sans, Arial, sans-serif" font-size="9.8"  fill="#000" stroke="#000" stroke-width="0.2">16</text>
<text x="1041.5" y="496" text-anchor="middle" font-family="Liberation Sans, Arial, sans-serif" font-size="9.8"  fill="#000" stroke="#000" stroke-width="0.2">23</text>
<text x="1041.5" y="670.6" text-anchor="middle" font-family="Liberation Sans, Arial, sans-serif" font-size="9.8"  fill="#000" stroke="#000" stroke-width="0.2">23</text>
<text x="1078.8" y="496" text-anchor="middle" font-family="Liberation Sans, Arial, sans-serif" font-size="10" font-weight="bold" fill="#000" stroke="#000" stroke-width="0.2">Apr</text>
<text x="1078.8" y="670.6" text-anchor="middle" font-family="Liberation Sans, Arial, sans-serif" font-size="10" font-weight="bold" fill="#000" stroke="#000" stroke-width="0.2">Apr</text>
<text x="1089" y="496" text-anchor="middle" font-family="Liberation Sans, Arial, sans-serif" font-size="9.8"  fill="#000" stroke="#000" stroke-width="0.2">6</text>
<text x="1089" y="670.6" text-anchor="middle" font-family="Liberation Sans, Arial, sans-serif" font-size="9.8"  fill="#000" stroke="#000" stroke-width="0.2">6</text>
<text x="1115.4" y="496" text-anchor="middle" font-family="Liberation Sans, Arial, sans-serif" font-size="9.8"  fill="#000" stroke="#000" stroke-width="0.2">13</text>
<text x="1115.4" y="670.6" text-anchor="middle" font-family="Liberation Sans, Arial, sans-serif" font-size="9.8"  fill="#000" stroke="#000" stroke-width="0.2">13</text>
<text x="1141.8" y="496" text-anchor="middle" font-family="Liberation Sans, Arial, sans-serif" font-size="9.8"  fill="#000" stroke="#000" stroke-width="0.2">20</text>
<text x="1141.8" y="670.6" text-anchor="middle" font-family="Liberation Sans, Arial, sans-serif" font-size="9.8"  fill="#000" stroke="#000" stroke-width="0.2">20</text>
<g clip-path="url(#mc)">
<g fill="#dddddd" stroke="#c6c6c6" stroke-width="0.8"><rect x="46.4" y="425.5" width="4.1" height="60.9"/><rect x="51.7" y="430.7" width="4.1" height="55.7"/><rect x="62.3" y="429.8" width="4.1" height="56.6"/><rect x="67.6" y="398.4" width="4.1" height="88"/><rect x="72.9" y="424.6" width="4.1" height="61.8"/><rect x="83.4" y="426.7" width="4.1" height="59.7"/><rect x="88.7" y="451.4" width="4.1" height="35"/><rect x="104.6" y="433.4" width="4.1" height="53"/><rect x="109.8" y="433.7" width="4.1" height="52.7"/><rect x="120.4" y="435.4" width="4.1" height="51"/><rect x="131" y="430.7" width="4.1" height="55.7"/><rect x="136.3" y="426.9" width="4.1" height="59.5"/><rect x="146.8" y="435.4" width="4.1" height="51"/><rect x="152.1" y="427.7" width="4.1" height="58.7"/><rect x="157.4" y="426" width="4.1" height="60.4"/><rect x="162.7" y="424.6" width="4.1" height="61.8"/><rect x="167.9" y="430.7" width="4.1" height="55.7"/><rect x="173.2" y="432.5" width="4.1" height="53.9"/><rect x="199.6" y="429.8" width="4.1" height="56.6"/><rect x="210.2" y="425.5" width="4.1" height="60.9"/><rect x="220.8" y="433.7" width="4.1" height="52.7"/><rect x="231.3" y="431.6" width="4.1" height="54.8"/><rect x="236.6" y="429" width="4.1" height="57.4"/><rect x="241.9" y="433.7" width="4.1" height="52.7"/><rect x="273.6" y="429" width="4.1" height="57.4"/><rect x="284.2" y="426.3" width="4.1" height="60.1"/><rect x="289.4" y="430.7" width="4.1" height="55.7"/><rect x="294.7" y="437.4" width="4.1" height="49"/><rect x="310.6" y="435.6" width="4.1" height="50.8"/><rect x="315.9" y="435.6" width="4.1" height="50.8"/><rect x="326.4" y="429.7" width="4.1" height="56.7"/><rect x="331.7" y="436.7" width="4.1" height="49.7"/><rect x="337" y="426.8" width="4.1" height="59.6"/><rect x="342.3" y="425.3" width="4.1" height="61.1"/><rect x="352.8" y="431.6" width="4.1" height="54.8"/><rect x="368.7" y="421.5" width="4.1" height="64.9"/><rect x="374" y="375.6" width="4.1" height="110.8"/><rect x="379.3" y="424.5" width="4.1" height="61.9"/><rect x="400.4" y="431.6" width="4.1" height="54.8"/><rect x="405.7" y="426.8" width="4.1" height="59.6"/><rect x="410.9" y="420.7" width="4.1" height="65.7"/><rect x="416.2" y="420.7" width="4.1" height="65.7"/><rect x="421.5" y="429.7" width="4.1" height="56.7"/><rect x="426.8" y="431.6" width="4.1" height="54.8"/><rect x="432.1" y="425.5" width="4.1" height="60.9"/><rect x="442.6" y="431.6" width="4.1" height="54.8"/><rect x="458.5" y="434.4" width="4.1" height="52"/><rect x="469.1" y="430.6" width="4.1" height="55.8"/><rect x="479.6" y="428.3" width="4.1" height="58.1"/><rect x="484.9" y="436.7" width="4.1" height="49.7"/><rect x="490.2" y="427.8" width="4.1" height="58.6"/><rect x="500.8" y="424.5" width="4.1" height="61.9"/><rect x="506" y="429.7" width="4.1" height="56.7"/><rect x="511.3" y="425.7" width="4.1" height="60.7"/><rect x="516.6" y="423.6" width="4.1" height="62.8"/><rect x="532.4" y="415.8" width="4.1" height="70.6"/><rect x="537.7" y="417.7" width="4.1" height="68.7"/><rect x="548.3" y="420.7" width="4.1" height="65.7"/><rect x="558.9" y="419.8" width="4.1" height="66.6"/><rect x="564.1" y="427.2" width="4.1" height="59.2"/><rect x="569.4" y="433.8" width="4.1" height="52.6"/><rect x="574.7" y="431" width="4.1" height="55.4"/><rect x="601.1" y="427.8" width="4.1" height="58.6"/><rect x="611.7" y="411.9" width="4.1" height="74.5"/><rect x="617" y="402.9" width="4.1" height="83.5"/><rect x="622.3" y="425.5" width="4.1" height="60.9"/><rect x="627.5" y="436.5" width="4.1" height="49.9"/><rect x="632.8" y="458.2" width="4.1" height="28.2"/><rect x="643.4" y="429.7" width="4.1" height="56.7"/><rect x="648.7" y="430.3" width="4.1" height="56.1"/><rect x="653.9" y="429.9" width="4.1" height="56.5"/><rect x="659.2" y="427.5" width="4.1" height="58.9"/><rect x="675.1" y="420.9" width="4.1" height="65.5"/><rect x="680.4" y="427.5" width="4.1" height="58.9"/><rect x="706.8" y="424.4" width="4.1" height="62"/><rect x="712.1" y="358.6" width="4.1" height="127.8"/><rect x="717.3" y="437.5" width="4.1" height="48.9"/><rect x="722.6" y="443.9" width="4.1" height="42.5"/><rect x="727.9" y="465.8" width="4.1" height="20.6"/><rect x="754.3" y="436.5" width="4.1" height="49.9"/><rect x="759.6" y="422" width="4.1" height="64.4"/><rect x="764.9" y="424.4" width="4.1" height="62"/><rect x="775.4" y="426.4" width="4.1" height="60"/><rect x="780.7" y="430.3" width="4.1" height="56.1"/><rect x="786" y="429.9" width="4.1" height="56.5"/><rect x="801.9" y="427" width="4.1" height="59.4"/><rect x="817.7" y="415" width="4.1" height="71.4"/><rect x="823" y="424.4" width="4.1" height="62"/><rect x="828.3" y="425.5" width="4.1" height="60.9"/><rect x="833.6" y="429.9" width="4.1" height="56.5"/><rect x="838.8" y="425.5" width="4.1" height="60.9"/><rect x="860" y="418.7" width="4.1" height="67.7"/><rect x="881.1" y="414.3" width="4.1" height="72.1"/><rect x="886.4" y="423.7" width="4.1" height="62.7"/><rect x="907.5" y="422.6" width="4.1" height="63.8"/><rect x="912.8" y="424.4" width="4.1" height="62"/><rect x="918.1" y="429.2" width="4.1" height="57.2"/><rect x="928.6" y="423.7" width="4.1" height="62.7"/><rect x="939.2" y="426.6" width="4.1" height="59.8"/><rect x="944.5" y="424.4" width="4.1" height="62"/><rect x="960.3" y="422" width="4.1" height="64.4"/><rect x="970.9" y="426.4" width="4.1" height="60"/><rect x="986.8" y="416.7" width="4.1" height="69.7"/><rect x="1013.2" y="428.8" width="4.1" height="57.6"/><rect x="1018.4" y="431.8" width="4.1" height="54.6"/><rect x="1039.6" y="422" width="4.1" height="64.4"/><rect x="1050.1" y="431.8" width="4.1" height="54.6"/><rect x="1071.3" y="414.3" width="4.1" height="72.1"/><rect x="1076.6" y="424.4" width="4.1" height="62"/><rect x="1081.8" y="434.8" width="4.1" height="51.6"/><rect x="1087.1" y="442" width="4.1" height="44.4"/><rect x="1092.4" y="434.8" width="4.1" height="51.6"/><rect x="1097.7" y="420.7" width="4.1" height="65.7"/><rect x="1103" y="430" width="4.1" height="56.4"/><rect x="1113.5" y="431.9" width="4.1" height="54.5"/><rect x="1118.8" y="428.7" width="4.1" height="57.7"/><rect x="1124.1" y="428.7" width="4.1" height="57.7"/><rect x="1129.4" y="430.8" width="4.1" height="55.6"/></g>
<g fill="#f2e0e2" stroke="#eabcc8" stroke-width="0.8"><rect x="30.6" y="432.5" width="4.1" height="53.9"/><rect x="35.9" y="431.6" width="4.1" height="54.8"/><rect x="41.2" y="384" width="4.1" height="102.4"/><rect x="57" y="432.5" width="4.1" height="53.9"/><rect x="78.1" y="419.9" width="4.1" height="66.5"/><rect x="94" y="434.7" width="4.1" height="51.7"/><rect x="99.3" y="427.7" width="4.1" height="58.7"/><rect x="115.1" y="437.2" width="4.1" height="49.2"/><rect x="125.7" y="428.1" width="4.1" height="58.3"/><rect x="141.5" y="429" width="4.1" height="57.4"/><rect x="178.5" y="426.4" width="4.1" height="60"/><rect x="183.8" y="424.6" width="4.1" height="61.8"/><rect x="189.1" y="410.6" width="4.1" height="75.8"/><rect x="194.4" y="418.5" width="4.1" height="67.9"/><rect x="204.9" y="426.9" width="4.1" height="59.5"/><rect x="215.5" y="427.2" width="4.1" height="59.2"/><rect x="226.1" y="432.5" width="4.1" height="53.9"/><rect x="247.2" y="427.2" width="4.1" height="59.2"/><rect x="252.5" y="437.7" width="4.1" height="48.7"/><rect x="257.8" y="430.7" width="4.1" height="55.7"/><rect x="263" y="429" width="4.1" height="57.4"/><rect x="268.3" y="441.2" width="4.1" height="45.2"/><rect x="278.9" y="439.5" width="4.1" height="46.9"/><rect x="300" y="438.6" width="4.1" height="47.8"/><rect x="305.3" y="432.5" width="4.1" height="53.9"/><rect x="321.1" y="427" width="4.1" height="59.4"/><rect x="347.6" y="430.6" width="4.1" height="55.8"/><rect x="358.1" y="432.5" width="4.1" height="53.9"/><rect x="363.4" y="429.7" width="4.1" height="56.7"/><rect x="384.5" y="427.8" width="4.1" height="58.6"/><rect x="389.8" y="429.7" width="4.1" height="56.7"/><rect x="395.1" y="424.5" width="4.1" height="61.9"/><rect x="437.4" y="429.7" width="4.1" height="56.7"/><rect x="447.9" y="433.5" width="4.1" height="52.9"/><rect x="453.2" y="420.7" width="4.1" height="65.7"/><rect x="463.8" y="432.5" width="4.1" height="53.9"/><rect x="474.3" y="424.5" width="4.1" height="61.9"/><rect x="495.5" y="422.6" width="4.1" height="63.8"/><rect x="521.9" y="413.2" width="4.1" height="73.2"/><rect x="527.2" y="414.1" width="4.1" height="72.3"/><rect x="543" y="415.8" width="4.1" height="70.6"/><rect x="553.6" y="418.8" width="4.1" height="67.6"/><rect x="580" y="422.6" width="4.1" height="63.8"/><rect x="585.3" y="427.8" width="4.1" height="58.6"/><rect x="590.6" y="427.2" width="4.1" height="59.2"/><rect x="595.8" y="424.5" width="4.1" height="61.9"/><rect x="606.4" y="416.8" width="4.1" height="69.6"/><rect x="638.1" y="433.6" width="4.1" height="52.8"/><rect x="664.5" y="426.4" width="4.1" height="60"/><rect x="669.8" y="433.6" width="4.1" height="52.8"/><rect x="685.6" y="427.5" width="4.1" height="58.9"/><rect x="690.9" y="424.4" width="4.1" height="62"/><rect x="696.2" y="425.3" width="4.1" height="61.1"/><rect x="701.5" y="422.6" width="4.1" height="63.8"/><rect x="733.2" y="459.3" width="4.1" height="27.1"/><rect x="738.5" y="449.6" width="4.1" height="36.8"/><rect x="743.8" y="454.4" width="4.1" height="32"/><rect x="749" y="453.8" width="4.1" height="32.6"/><rect x="770.2" y="425.9" width="4.1" height="60.5"/><rect x="791.3" y="426.6" width="4.1" height="59.8"/><rect x="796.6" y="423.7" width="4.1" height="62.7"/><rect x="807.1" y="411.2" width="4.1" height="75.2"/><rect x="812.4" y="412.8" width="4.1" height="73.6"/><rect x="844.1" y="423.7" width="4.1" height="62.7"/><rect x="849.4" y="409.5" width="4.1" height="76.9"/><rect x="854.7" y="406.6" width="4.1" height="79.8"/><rect x="865.3" y="401.8" width="4.1" height="84.6"/><rect x="870.5" y="390.8" width="4.1" height="95.6"/><rect x="875.8" y="405.8" width="4.1" height="80.6"/><rect x="891.7" y="420.9" width="4.1" height="65.5"/><rect x="896.9" y="415.6" width="4.1" height="70.8"/><rect x="902.2" y="401.8" width="4.1" height="84.6"/><rect x="923.4" y="432.1" width="4.1" height="54.3"/><rect x="933.9" y="425.5" width="4.1" height="60.9"/><rect x="949.8" y="422" width="4.1" height="64.4"/><rect x="955.1" y="400.7" width="4.1" height="85.7"/><rect x="965.6" y="420.9" width="4.1" height="65.5"/><rect x="976.2" y="416.7" width="4.1" height="69.7"/><rect x="981.5" y="422.6" width="4.1" height="63.8"/><rect x="992" y="427" width="4.1" height="59.4"/><rect x="997.3" y="429.9" width="4.1" height="56.5"/><rect x="1002.6" y="420.9" width="4.1" height="65.5"/><rect x="1007.9" y="430.8" width="4.1" height="55.6"/><rect x="1023.7" y="429.9" width="4.1" height="56.5"/><rect x="1029" y="425.3" width="4.1" height="61.1"/><rect x="1034.3" y="355.3" width="4.1" height="131.1"/><rect x="1044.9" y="428.1" width="4.1" height="58.3"/><rect x="1055.4" y="429.9" width="4.1" height="56.5"/><rect x="1060.7" y="427.5" width="4.1" height="58.9"/><rect x="1066" y="425.3" width="4.1" height="61.1"/><rect x="1108.3" y="433.5" width="4.1" height="52.9"/></g>
<polyline points="27.2,398.8 32.5,398.9 37.8,398.6 43.1,397.5 48.3,391.3 53.6,384.6 58.9,384.5 64.2,379.3 69.5,373.2 74.8,368 80,364.9 85.3,359.6 90.6,350.7 95.9,341.9 101.2,341.1 106.5,336.4 111.7,332.1 117,328.5 122.3,325.8 127.6,321.2 132.9,315.8 138.2,312.2 143.4,310.4 148.7,307.2 154,305.2 159.3,299 164.6,296.9 169.8,292.6 175.1,289.8 180.4,285.3 185.7,280 191,271.2 196.3,263.7 201.5,257.7 206.8,257.7 212.1,256.5 217.4,252.5 222.7,249.8 228,249.5 233.2,242.8 238.5,240.8 243.8,239 249.1,237.2 254.4,238.2 259.7,236.1 264.9,233.2 270.2,234.4 275.5,224.2 280.8,225.2 286.1,224.1 291.3,223.9 296.6,221.6 301.9,218.8 307.2,212.7 312.5,213.6 317.8,210.1 323,203.8 328.3,205.1 333.6,204.8 338.9,202.7 344.2,197 349.5,196.6 354.7,193.1 360,191 365.3,184 370.6,178.9 375.9,175 381.2,169 386.4,164.7 391.7,161.7 397,158 402.3,156 407.6,155 412.8,151.4 418.1,145.6 423.4,142.8 428.7,140.1 434,137.8 439.3,134 444.5,130.8 449.8,129.8 455.1,114.6 460.4,108.3 465.7,101.7 471,96.4 476.2,92.9 481.5,93.4 486.8,90.1 492.1,93.2 497.4,92 502.7,92.3 507.9,88.8 513.2,80.8 518.5,77.9 523.8,72.5 529.1,69.8 534.3,66.8 539.6,64.2 544.9,62.2 550.2,61.4 555.5,60.7 560.8,58.8 566,52.2 571.3,52.5 576.6,53.8 581.9,49.1 587.2,45 592.5,44.8 597.7,48.3 603,52.1 608.3,42.1 613.6,41.9 618.9,41.5 624.2,38.3 629.4,39.7 634.7,42.7 640,45.2 645.3,47.2 650.6,47.8 655.8,49.5 661.1,50.7 666.4,51.5 671.7,54.5 677,50.5 682.3,46.8 687.5,42.5 692.8,43.6 698.1,45.5 703.4,46.2 708.7,44.6 714,44.1 719.2,44.8 724.5,44.7 729.8,44.8 735.1,45.4 740.4,45.7 745.7,48 750.9,47.9 756.2,45.7 761.5,43.2 766.8,41.3 772.1,40.2 777.3,41 782.6,36.7 787.9,33.4 793.2,31.4 798.5,27.3 803.8,26.3 809,26.8 814.3,19.9 819.6,14.9 824.9,15.3 830.2,18.2 835.5,18.2 840.7,18.1 846,18.2 851.3,9.3 856.6,7.2 861.9,4.3 867.2,-2.4 872.4,-3.6 877.7,-2.4 883,-10.4 888.3,-10.9 893.6,-8 898.8,-9.3 904.1,-14 909.4,-11.3 914.7,-9.8 920,-6.9 925.3,-1.5 930.5,-1.8 935.8,-1.3 941.1,-1 946.4,-0.6 951.7,-1.7 957,-0.8 962.2,-2.7 967.5,-9.5 972.8,-6.8 978.1,-6 983.4,-4.2 988.7,-10.4 993.9,-5.8 999.2,0.7 1004.5,5.7 1009.8,11.1 1015.1,15 1020.3,22.6 1025.6,28.4 1030.9,36.2 1036.2,40.3 1041.5,40.1 1046.8,49.4 1052,55.8 1057.3,61.4 1062.6,69.8 1067.9,79.2 1073.2,71.5 1078.5,76.3 1083.7,75.1 1089,83 1094.3,85.3 1099.6,70.6 1104.9,68.1 1110.2,69.9 1115.4,62.2 1120.7,54.2 1126,47.5 1131.3,42.5" fill="none" stroke="#ccb3f5" stroke-width="1"/>
<polyline points="27.2,575.3 32.5,570.6 37.8,567.1 43.1,565.9 48.3,565.6 53.6,561.1 58.9,550.6 64.2,542.4 69.5,534 74.8,523.4 80,512.6 85.3,503 90.6,494.5 95.9,491.5 101.2,481.6 106.5,473.7 111.7,465.3 117,459 122.3,452 127.6,450 132.9,447.7 138.2,441.6 143.4,434.7 148.7,429.4 154,423.5 159.3,418.6 164.6,410.2 169.8,403 175.1,395.3 180.4,391.8 185.7,390.7 191,395.6 196.3,407.4 201.5,410.2 206.8,409.3 212.1,406.2 217.4,406.9 222.7,402.6 228,397.7 233.2,394.4 238.5,385.9 243.8,377.9 249.1,372 254.4,363.9 259.7,362.7 264.9,363.8 270.2,362.7 275.5,366.2 280.8,360.8 286.1,355.9 291.3,349.3 296.6,344 301.9,343.2 307.2,349.5 312.5,346 317.8,343.4 323,345.8 328.3,339.6 333.6,334.2 338.9,329.7 344.2,325.5 349.5,317 354.7,310.1 360,303.4 365.3,303 370.6,299.1 375.9,292.5 381.2,286.7 386.4,283.1 391.7,280.3 397,281.2 402.3,277.5 407.6,272.3 412.8,268.4 418.1,265.7 423.4,260.2 428.7,255.5 434,249.3 439.3,247.4 444.5,242.6 449.8,237.5 455.1,261.1 460.4,267.5 465.7,275 471,279.1 476.2,284.5 481.5,283.1 486.8,280.4 492.1,271.4 497.4,270.1 502.7,264.6 507.9,259.7 513.2,254.2 518.5,243.6 523.8,237 529.1,233.6 534.3,229.6 539.6,225 544.9,226.5 550.2,224.9 555.5,228.8 560.8,233.1 566,234.7 571.3,228.3 576.6,221.3 581.9,229.5 587.2,237 592.5,244.4 597.7,251.1 603,255 608.3,280.7 613.6,289.6 618.9,290.6 624.2,289.9 629.4,281.2 634.7,268.6 640,260.3 645.3,251.7 650.6,243.8 655.8,234.8 661.1,226.3 666.4,220.6 671.7,213.3 677,210.6 682.3,207 687.5,210 692.8,208.4 698.1,207.1 703.4,212.6 708.7,216.3 714,213.9 719.2,207.7 724.5,200.6 729.8,192.3 735.1,184.6 740.4,179.4 745.7,173.2 750.9,173.5 756.2,175.2 761.5,174 766.8,169.5 772.1,166.4 777.3,161.7 782.6,159.5 787.9,156.2 793.2,152.9 798.5,154.9 803.8,152.8 809,149.9 814.3,164.9 819.6,171.7 824.9,170 830.2,165.6 835.5,161.9 840.7,156.6 846,152 851.3,157.7 856.6,158.5 861.9,157.8 867.2,165.6 872.4,170.1 877.7,177.6 883,184.7 888.3,181.5 893.6,176.7 898.8,175.7 904.1,187.3 909.4,190.2 914.7,193.2 920,191.4 925.3,188.5 930.5,187.8 935.8,191.5 941.1,191.3 946.4,186.9 951.7,187.1 957,187.4 962.2,190.4 967.5,203.4 972.8,201.7 978.1,204.9 983.4,213.1 988.7,225.1 993.9,225.9 999.2,224.4 1004.5,231.8 1009.8,240.3 1015.1,244.4 1020.3,242.5 1025.6,248.7 1030.9,252.9 1036.2,267.4 1041.5,279.2 1046.8,281.5 1052,283.3 1057.3,293.9 1062.6,307.9 1067.9,320.7 1073.2,336.2 1078.5,333.7 1083.7,337.2 1089,328.2 1094.3,325.3 1099.6,328.4 1104.9,316.1 1110.2,301.3 1115.4,292.7 1120.7,280.1 1126,264.1 1131.3,246.8" fill="none" stroke="#ccb3f5" stroke-width="1"/>
<polyline points="27.2,427.4 32.5,426.7 37.8,425.9 43.1,424.8 48.3,419.6 53.6,413.2 58.9,411.5 64.2,405.8 69.5,399.3 74.8,393.3 80,388.9 85.3,382.9 90.6,374.1 95.9,366.2 101.2,364 106.5,358.8 111.7,353.9 117,349.8 122.3,346.4 127.6,342.2 132.9,337.3 138.2,333.4 143.4,330.7 148.7,327.2 154,324.5 159.3,318.5 164.6,315.4 169.8,310.7 175.1,307.1 180.4,302.7 185.7,298.2 191,291.5 196.3,287.1 201.5,282.5 206.8,282.4 212.1,280.8 217.4,277.6 222.7,274.6 228,273.6 233.2,267.4 238.5,264.4 243.8,261.6 249.1,259.2 254.4,258.8 259.7,256.8 264.9,254.5 270.2,255.4 275.5,247.3 280.8,247.3 286.1,245.6 291.3,244.4 296.6,241.6 301.9,239.1 307.2,235 312.5,235.2 317.8,231.8 323,227 328.3,227 333.6,225.9 338.9,223.4 344.2,218 349.5,216.3 354.7,212.2 360,209.4 365.3,203.5 370.6,198.6 375.9,194.2 381.2,188.2 386.4,184 391.7,181.1 397,178.1 402.3,175.9 407.6,174.2 412.8,170.5 418.1,165.2 423.4,162 428.7,159 434,156 439.3,152.6 444.5,149.1 449.8,147.5 455.1,138.5 460.4,134.2 465.7,129.8 471,126 476.2,123.9 481.5,124 486.8,120.8 492.1,122 497.4,120.8 502.7,120.3 507.9,116.6 513.2,108.9 518.5,104.8 523.8,99.2 529.1,96.4 534.3,93.2 539.6,90.4 544.9,88.9 550.2,87.9 555.5,88 560.8,87.1 566,81.8 571.3,81 576.6,81 581.9,78.3 587.2,76 592.5,77 597.7,81.1 603,84.8 608.3,80.4 613.6,81.6 618.9,81.4 624.2,78.6 629.4,78.4 634.7,79 640,79.8 645.3,80.2 650.6,79.4 655.8,79.5 661.1,79.2 666.4,79 671.7,80.3 677,76.5 682.3,72.8 687.5,69.7 692.8,70.4 698.1,71.8 703.4,73.2 708.7,72.4 714,71.7 719.2,71.3 724.5,70 729.8,68.8 735.1,68.1 740.4,67.5 745.7,68.5 750.9,68.4 756.2,66.8 761.5,64.6 766.8,62.2 772.1,60.8 777.3,60.8 782.6,56.8 787.9,53.5 793.2,51.3 798.5,48.2 803.8,47 809,46.9 814.3,43.5 819.6,40.4 824.9,40.5 830.2,42.2 835.5,41.6 840.7,40.7 846,40 851.3,33.4 856.6,31.9 861.9,29.3 867.2,24.9 872.4,24.5 877.7,26.7 883,21.1 888.3,20.2 893.6,21.9 898.8,20.7 904.1,18.5 909.4,21.2 914.7,22.9 920,25.1 925.3,29.2 930.5,28.8 935.8,29.8 941.1,30.1 946.4,29.7 951.7,28.8 957,29.6 962.2,28.5 967.5,24.8 972.8,26.8 978.1,28 983.4,30.8 988.7,27.4 993.9,31.4 999.2,36.7 1004.5,42 1009.8,47.9 1015.1,51.9 1020.3,58 1025.6,63.8 1030.9,71.1 1036.2,76.8 1041.5,78.5 1046.8,86.7 1052,92.4 1057.3,98.7 1062.6,108 1067.9,117.9 1073.2,113.8 1078.5,117.5 1083.7,117 1089,122.3 1094.3,123.7 1099.6,111.8 1104.9,107.8 1110.2,107.1 1115.4,99.2 1120.7,90.5 1126,82.4 1131.3,75.5" fill="none" stroke="#c0cbd0" stroke-width="1" stroke-dasharray="1.6,1.7"/>
<polyline points="27.2,545.1 32.5,541.2 37.8,538.2 43.1,537.1 48.3,535.7 53.6,530.9 58.9,522.2 64.2,514.5 69.5,506.5 74.8,496.9 80,487.4 85.3,478.6 90.6,469.9 95.9,465.9 101.2,457.6 106.5,450.3 111.7,442.7 117,436.8 122.3,430.5 127.6,428.1 132.9,425.2 138.2,419.6 143.4,413.6 148.7,408.7 154,403.4 159.3,398.3 164.6,391 169.8,384.3 175.1,377.5 180.4,373.8 185.7,371.9 191,374.4 196.3,382.9 201.5,384.2 206.8,383.4 212.1,380.6 217.4,380.5 222.7,376.5 228,372.4 233.2,368.5 238.5,361.1 243.8,354.2 249.1,349.1 254.4,342.6 259.7,341.1 264.9,341.6 270.2,340.9 275.5,342 280.8,337.7 286.1,333.4 291.3,328 296.6,323.2 301.9,322.1 307.2,326.2 312.5,323.5 317.8,320.7 323,321.6 328.3,316.7 333.6,312.2 338.9,308.1 344.2,303.7 349.5,296.5 354.7,290.2 360,284.3 365.3,282.8 370.6,278.7 375.9,272.5 381.2,266.7 386.4,263 391.7,260.1 397,260.3 402.3,256.9 407.6,252.4 412.8,248.6 418.1,245.3 423.4,240.3 428.7,235.9 434,230.4 439.3,228.2 444.5,223.6 449.8,219.2 455.1,236.1 460.4,240.3 465.7,245.3 471,247.8 476.2,251.6 481.5,250.5 486.8,247.7 492.1,240.8 497.4,239.6 502.7,235.1 507.9,230.5 513.2,224.5 518.5,215.2 523.8,208.9 529.1,205.6 534.3,201.8 539.6,197.5 544.9,198.4 550.2,196.9 555.5,200 560.8,203.2 566,203.3 571.3,198.2 576.6,192.6 581.9,198.5 587.2,204 592.5,210 597.7,216.2 603,220 608.3,239.4 613.6,246.7 618.9,247.4 624.2,246.3 629.4,239.3 634.7,229.6 640,223.2 645.3,216.5 650.6,210.1 655.8,203 661.1,196.2 666.4,191.7 671.7,186.2 677,183.2 682.3,179.6 687.5,181.3 692.8,180.2 698.1,179.5 703.4,184.1 708.7,186.8 714,184.8 719.2,179.9 724.5,174 729.8,167.1 735.1,160.9 740.4,156.7 745.7,151.9 750.9,152.1 756.2,153.2 761.5,151.7 766.8,147.7 772.1,144.9 777.3,141.2 782.6,138.6 787.9,135.3 793.2,132.3 798.5,133.2 803.8,131.3 809,128.9 814.3,140.2 819.6,144.9 824.9,143.6 830.2,140.4 835.5,137.4 840.7,133 846,129.2 851.3,132.3 856.6,132.7 861.9,131.6 867.2,136.8 872.4,140.4 877.7,146.7 883,151.1 888.3,148.4 893.6,145 898.8,144 904.1,152.6 909.4,155.5 914.7,158.3 920,157.3 925.3,155.8 930.5,155.2 935.8,158.3 941.1,158.2 946.4,154.7 951.7,154.7 957,155 962.2,157.2 967.5,166.7 972.8,165.8 978.1,168.5 983.4,175.6 988.7,184.3 993.9,185.8 999.2,185.8 1004.5,192.7 1009.8,200.7 1015.1,204.7 1020.3,204.5 1025.6,210.7 1030.9,215.5 1036.2,228.1 1041.5,237.8 1046.8,241.4 1052,244 1057.3,253.7 1062.6,266.6 1067.9,278.9 1073.2,290.2 1078.5,289 1083.7,291.7 1089,285.7 1094.3,283.7 1099.6,283.6 1104.9,273.1 1110.2,261.3 1115.4,252.9 1120.7,241.1 1126,226.7 1131.3,211.6" fill="none" stroke="#c0cbd0" stroke-width="1" stroke-dasharray="1.6,1.7"/>
<polyline points="27.2,456.3 32.5,454.9 37.8,453.6 43.1,452.5 48.3,448.1 53.6,442.1 58.9,438.7 64.2,432.6 69.5,425.7 74.8,418.8 80,413.2 85.3,406.5 90.6,397.7 95.9,390.8 101.2,387.1 106.5,381.4 111.7,375.8 117,371.3 122.3,367.2 127.6,363.4 132.9,359 138.2,354.6 143.4,351.2 148.7,347.3 154,344 159.3,338.3 164.6,334.1 169.8,328.9 175.1,324.5 180.4,320.3 185.7,316.4 191,312 196.3,310.8 201.5,307.5 206.8,307.3 212.1,305.4 217.4,302.9 222.7,299.7 228,298 233.2,292.3 238.5,288.3 243.8,284.4 249.1,281.3 254.4,279.5 259.7,277.6 264.9,276 270.2,276.5 275.5,270.7 280.8,269.6 286.1,267.3 291.3,265 296.6,261.8 301.9,259.6 307.2,257.5 312.5,257 317.8,253.8 323,250.3 328.3,249.2 333.6,247.2 338.9,244.4 344.2,239.1 349.5,236.1 354.7,231.5 360,227.9 365.3,223.1 370.6,218.4 375.9,213.6 381.2,207.6 386.4,203.6 391.7,200.6 397,198.4 402.3,195.9 407.6,193.5 412.8,189.8 418.1,185 423.4,181.4 428.7,178 434,174.4 439.3,171.3 444.5,167.5 449.8,165.2 455.1,162.5 460.4,160.3 465.7,158.2 471,155.9 476.2,155.2 481.5,155.1 486.8,152 492.1,151.2 497.4,150 502.7,148.5 507.9,144.6 513.2,137.4 518.5,132 523.8,126.2 529.1,123.3 534.3,119.9 539.6,116.7 544.9,115.8 550.2,114.7 555.5,115.5 560.8,115.6 566,111.6 571.3,109.8 576.6,108.4 581.9,107.9 587.2,107.4 592.5,109.6 597.7,114.2 603,118 608.3,119.3 613.6,121.9 618.9,121.9 624.2,119.5 629.4,117.7 634.7,115.8 640,114.9 645.3,113.6 650.6,111.5 655.8,109.8 661.1,108 666.4,106.7 671.7,106.4 677,102.8 682.3,99.1 687.5,97.2 692.8,97.4 698.1,98.3 703.4,100.5 708.7,100.6 714,99.5 719.2,98 724.5,95.6 729.8,93 735.1,91 740.4,89.5 745.7,89.1 750.9,89.1 756.2,88.1 761.5,86.1 766.8,83.3 772.1,81.6 777.3,80.6 782.6,77 787.9,73.7 793.2,71.3 798.5,69.2 803.8,67.8 809,67.1 814.3,67.4 819.6,66.2 824.9,65.9 830.2,66.4 835.5,65.2 840.7,63.5 846,62 851.3,57.8 856.6,56.7 861.9,54.5 867.2,52.4 872.4,53 877.7,56.2 883,53 888.3,51.7 893.6,52.1 898.8,51 904.1,51.4 909.4,54.1 914.7,56.1 920,57.5 925.3,60.3 930.5,59.8 935.8,61.4 941.1,61.5 946.4,60.4 951.7,59.7 957,60.4 962.2,60.1 967.5,59.5 972.8,60.9 978.1,62.4 983.4,66.2 988.7,65.7 993.9,69.1 999.2,73.2 1004.5,78.9 1009.8,85.3 1015.1,89.2 1020.3,93.9 1025.6,99.8 1030.9,106.4 1036.2,113.8 1041.5,117.4 1046.8,124.5 1052,129.5 1057.3,136.6 1062.6,146.8 1067.9,157.2 1073.2,156.7 1078.5,159.3 1083.7,159.6 1089,162.2 1094.3,162.8 1099.6,153.7 1104.9,148.2 1110.2,144.8 1115.4,136.8 1120.7,127.4 1126,117.7 1131.3,108.9" fill="none" stroke="#eed9b0" stroke-width="1" stroke-dasharray="1.6,1.7"/>
<polyline points="27.2,515.1 32.5,512.1 37.8,509.7 43.1,508.6 48.3,506.2 53.6,500.9 58.9,494.1 64.2,486.9 69.5,479.3 74.8,470.6 80,462.4 85.3,454.3 90.6,445.6 95.9,440.7 101.2,433.9 106.5,427.1 111.7,420.2 117,414.8 122.3,409.2 127.6,406.3 132.9,403 138.2,397.7 143.4,392.6 148.7,388.1 154,383.5 159.3,378.1 164.6,371.9 169.8,365.7 175.1,359.7 180.4,355.8 185.7,353.3 191,353.5 196.3,358.6 201.5,358.4 206.8,357.8 212.1,355.3 217.4,354.4 222.7,350.7 228,347.4 233.2,342.9 238.5,336.6 243.8,330.7 249.1,326.3 254.4,321.4 259.7,319.8 264.9,319.6 270.2,319.2 275.5,318 280.8,314.8 286.1,311.2 291.3,306.8 296.6,302.6 301.9,301.1 307.2,303.1 312.5,301.1 317.8,298.2 323,297.6 328.3,294 333.6,290.3 338.9,286.7 344.2,282 349.5,276.2 354.7,270.5 360,265.4 365.3,262.7 370.6,258.4 375.9,252.7 381.2,246.9 386.4,243 391.7,240.1 397,239.5 402.3,236.4 407.6,232.6 412.8,228.8 418.1,225 423.4,220.5 428.7,216.5 434,211.6 439.3,209.1 444.5,204.8 449.8,201.1 455.1,211.3 460.4,213.4 465.7,216 471,216.8 476.2,219.1 481.5,218.3 486.8,215.4 492.1,210.6 497.4,209.4 502.7,205.9 507.9,201.5 513.2,195.1 518.5,187.2 523.8,181 529.1,177.9 534.3,174.2 539.6,170.3 544.9,170.6 550.2,169.2 555.5,171.6 560.8,173.7 566,172.4 571.3,168.4 576.6,164.2 581.9,168 587.2,171.4 592.5,176.1 597.7,181.8 603,185.6 608.3,198.7 613.6,204.4 618.9,204.9 624.2,203.3 629.4,198.2 634.7,191.1 640,186.6 645.3,181.7 650.6,176.8 655.8,171.6 661.1,166.5 666.4,163 671.7,159.3 677,156.1 682.3,152.5 687.5,153 692.8,152.3 698.1,152.1 703.4,156 708.7,157.8 714,156.1 719.2,152.3 724.5,147.6 729.8,142.2 735.1,137.3 740.4,134.1 745.7,130.8 750.9,131 756.2,131.3 761.5,129.6 766.8,126.1 772.1,123.6 777.3,120.8 782.6,117.9 787.9,114.6 793.2,111.8 798.5,111.7 803.8,110 809,108.2 814.3,115.7 819.6,118.4 824.9,117.4 830.2,115.5 835.5,113.1 840.7,109.7 846,106.6 851.3,107.3 856.6,107.1 861.9,105.6 867.2,108.4 872.4,110.9 877.7,116.2 883,118 888.3,115.8 893.6,113.6 898.8,112.6 904.1,118.4 909.4,121.3 914.7,123.8 920,123.6 925.3,123.6 930.5,123 935.8,125.6 941.1,125.6 946.4,122.9 951.7,122.6 957,123.1 962.2,124.4 967.5,130.5 972.8,130.3 978.1,132.7 983.4,138.6 988.7,144.2 993.9,146.3 999.2,147.7 1004.5,154.2 1009.8,161.6 1015.1,165.6 1020.3,167.1 1025.6,173.2 1030.9,178.6 1036.2,189.4 1041.5,197.1 1046.8,201.8 1052,205.2 1057.3,214.1 1062.6,226.1 1067.9,237.7 1073.2,244.9 1078.5,245 1083.7,246.9 1089,243.9 1094.3,242.8 1099.6,239.6 1104.9,230.8 1110.2,221.8 1115.4,213.6 1120.7,202.6 1126,189.9 1131.3,176.9" fill="none" stroke="#eed9b0" stroke-width="1" stroke-dasharray="1.6,1.7"/>
<polyline points="27.2,485.6 32.5,483.3 37.8,481.5 43.1,480.4 48.3,477 53.6,471.4 58.9,466.2 64.2,459.6 69.5,452.4 74.8,444.6 80,437.7 85.3,430.3 90.6,421.6 95.9,415.6 101.2,410.4 106.5,404.2 111.7,397.9 117,392.9 122.3,388.1 127.6,384.8 132.9,380.9 138.2,376.1 143.4,371.8 148.7,367.6 154,363.7 159.3,358.1 164.6,353 169.8,347.2 175.1,342 180.4,338 185.7,334.8 191,332.7 196.3,334.6 201.5,332.8 206.8,332.4 212.1,330.2 217.4,328.5 222.7,325.1 228,322.5 233.2,317.5 238.5,312.3 243.8,307.5 249.1,303.7 254.4,300.3 259.7,298.6 264.9,297.7 270.2,297.8 275.5,294.2 280.8,292.1 286.1,289.1 291.3,285.8 296.6,282.1 301.9,280.3 307.2,280.2 312.5,279 317.8,275.9 323,273.8 328.3,271.5 333.6,268.7 338.9,265.4 344.2,260.5 349.5,256.1 354.7,250.9 360,246.6 365.3,242.8 370.6,238.3 375.9,233.1 381.2,227.2 386.4,223.2 391.7,220.3 397,218.9 402.3,216.1 407.6,213 412.8,209.2 418.1,204.9 423.4,200.8 428.7,197.2 434,193 439.3,190.1 444.5,186.1 449.8,183.1 455.1,186.8 460.4,186.7 465.7,186.9 471,186.2 476.2,187 481.5,186.5 486.8,183.5 492.1,180.7 497.4,179.5 502.7,177 507.9,172.9 513.2,166.1 518.5,159.4 523.8,153.5 529.1,150.4 534.3,146.9 539.6,143.4 544.9,143.1 550.2,141.8 555.5,143.4 560.8,144.5 566,141.8 571.3,138.9 576.6,136.2 581.9,137.7 587.2,139.2 592.5,142.7 597.7,147.8 603,151.5 608.3,158.7 613.6,162.8 618.9,163.1 624.2,161.1 629.4,157.6 634.7,153.2 640,150.5 645.3,147.4 650.6,143.9 655.8,140.5 661.1,137 666.4,134.7 671.7,132.7 677,129.3 682.3,125.6 687.5,124.9 692.8,124.7 698.1,125.1 703.4,128.1 708.7,129 714,127.6 719.2,125 724.5,121.5 729.8,117.5 735.1,114 740.4,111.7 745.7,109.9 750.9,110 756.2,109.6 761.5,107.8 766.8,104.6 772.1,102.5 777.3,100.7 782.6,97.4 787.9,94.1 793.2,91.5 798.5,90.3 803.8,88.8 809,87.6 814.3,91.4 819.6,92.2 824.9,91.5 830.2,90.9 835.5,89.1 840.7,86.5 846,84.2 851.3,82.4 856.6,81.8 861.9,79.9 867.2,80.2 872.4,81.8 877.7,86 883,85.3 888.3,83.5 893.6,82.7 898.8,81.6 904.1,84.7 909.4,87.5 914.7,89.7 920,90.4 925.3,91.7 930.5,91.2 935.8,93.3 941.1,93.4 946.4,91.4 951.7,91 957,91.6 962.2,92.1 967.5,94.8 972.8,95.4 978.1,97.3 983.4,102.2 988.7,104.7 993.9,107.4 999.2,110.2 1004.5,116.3 1009.8,123.2 1015.1,127.2 1020.3,130.2 1025.6,136.2 1030.9,142.3 1036.2,151.3 1041.5,156.9 1046.8,162.9 1052,167.1 1057.3,175 1062.6,186.1 1067.9,197.1 1073.2,200.5 1078.5,201.8 1083.7,202.9 1089,202.7 1094.3,202.5 1099.6,196.3 1104.9,189.1 1110.2,183 1115.4,174.9 1120.7,164.7 1126,153.5 1131.3,142.7" fill="none" stroke="#b89ab8" stroke-width="1" stroke-dasharray="1.6,1.7"/>
<path d="M244 486.6C244.5 486.4 244.8 486.4 247 485.6C249.2 484.9 252.8 483.3 257.5 482.1C262.2 480.9 269.2 480 275 478.6C280.8 477.2 286.7 475.3 292.5 473.9C298.3 472.5 304.2 471.6 310 470.4C315.8 469.2 321.7 468.2 327.5 466.9C333.3 465.6 339.2 464.1 345 462.5C350.8 460.9 356.7 459.2 362.5 457.6C368.3 456 374.2 454.4 380 452.9C385.8 451.4 391.7 449.9 397.5 448.4C403.3 446.8 409.2 445.1 415 443.6C420.8 442.1 426.7 440.8 432.5 439.3C438.3 437.9 445.7 436 450 434.9C454.3 433.8 453.9 433.9 458.3 432.4C462.8 430.9 470.6 428.1 476.7 426C482.8 423.9 488.9 422.1 495 420.1C501.1 418.1 507.2 416.3 513.3 414.1C519.4 411.9 525.6 408.9 531.7 406.8C537.8 404.7 543.9 402.8 550 401.3C556.1 399.8 562.2 399.3 568.3 397.6C574.4 395.9 580.6 392.9 586.7 391.2C592.8 389.4 598.9 388.7 605 387.1C611.1 385.5 617.2 383.4 623.3 381.6C629.4 379.8 635.6 377.8 641.7 376.1C647.8 374.4 654.2 373.2 660 371.4C665.8 369.5 670.9 366.9 676.7 365C682.5 363.1 688.9 361.9 695 359.8C701.1 357.7 707.2 355.4 713.3 352.5C719.4 349.6 725.6 345.6 731.7 342.4C737.8 339.2 743.9 336.4 750 333.3C756.1 330.2 762.2 327.3 768.3 324.1C774.4 320.9 780.6 317.1 786.7 314C792.8 310.9 798.9 308.6 805 305.8C811.1 303 817.2 300.6 823.3 297.1C829.4 293.6 835.6 288.8 841.7 284.7C847.8 280.6 855.6 275.5 860 272.7C864.4 269.9 863.5 270.8 867.8 268.1C872 265.4 879.6 260 885.5 256.5C891.4 253 898.5 249.6 903.3 247.1C908 244.6 909.5 243.5 914 241.4C918.5 239.3 924.7 236.8 930 234.3C935.3 231.8 940.4 228.8 946 226.3C951.6 223.8 957.8 221.4 963.7 219.2C969.6 217 977.1 214.4 981.5 213C985.9 211.6 986.5 212 990 211C993.5 210 998.3 208.2 1002.5 206.9C1006.7 205.6 1010.8 204.3 1015 203.1C1019.2 201.9 1023.3 200.9 1027.5 199.8C1031.7 198.7 1035.8 197.6 1040 196.6C1044.2 195.6 1048.3 194.8 1052.5 194C1056.7 193.2 1060.8 192.6 1065 191.9C1069.2 191.2 1073.3 190.6 1077.5 189.8C1081.7 189 1085.8 188.3 1090 187.3C1094.2 186.3 1098.3 185.1 1102.5 183.8C1106.7 182.5 1110.2 180.9 1115 179.4C1119.8 177.9 1128.3 175.6 1131 174.8" fill="none" stroke="#d62a4e" stroke-width="1.3"/>
<path d="M101 489C101.6 488.4 100.9 489.2 104.7 485.2C108.5 481.2 117.4 471.8 123.7 465.1C130 458.4 136.4 451.6 142.7 444.9C149 438.2 155.3 430.9 161.6 424.8C167.9 418.7 174.3 413.1 180.6 408.2C186.9 403.3 193.2 399.8 199.5 395.2C205.8 390.6 212.2 385.8 218.5 380.9C224.8 375.9 231.9 369.6 237.4 365.5C242.9 361.4 246.2 359.7 251.7 356.1C257.2 352.6 264.3 348.4 270.6 344.2C276.9 340 284.3 335.2 289.6 331.2C294.9 327.2 298.1 323.5 302.4 320.2C306.7 316.9 311.1 314 315.4 311.3C319.7 308.6 324 306.2 328.4 303.9C332.8 301.6 336.6 300 341.5 297.4C346.4 294.8 352.4 291.5 357.8 288.4C363.2 285.3 368.7 281.8 374.1 278.7C379.5 275.6 385 272.5 390.4 269.7C395.8 266.9 401.8 264.6 406.7 261.6C411.6 258.7 416.3 254.4 420 252C423.7 249.6 425.9 248.5 428.9 247C431.9 245.5 434.8 244.3 437.8 242.8C440.8 241.3 443.8 239.4 446.7 237.8C449.6 236.2 451.8 235.2 455.5 233.3C459.2 231.4 465.3 228.4 469.2 226.5C473.1 224.6 475.8 223.2 478.9 221.6C482 220 484.8 218.4 487.8 217.1C490.8 215.8 493.3 215.1 496.7 213.6C500.1 212.1 505.2 209.8 508.2 208.2C511.1 206.6 511.9 205.7 514.4 203.8C516.9 202 520.3 199 523.3 197.1C526.3 195.2 529.2 193.8 532.2 192.2C535.2 190.6 538.1 188.9 541.1 187.3C544.1 185.8 546.7 184.4 550 182.9C553.3 181.4 557.4 180 560.7 178.4C564 176.8 567.5 174.8 570 173.1C572.5 171.4 572.9 169.9 575.7 168.5C578.5 167.1 583 165.7 586.7 164.8C590.4 163.9 593.4 163.4 597.7 163C602 162.6 608 162.5 612.3 162.1C616.6 161.7 619.6 161.1 623.3 160.3C627 159.5 630.6 158 634.3 157.1C638 156.2 641 156 645.3 154.8C649.6 153.7 655.9 151.6 660 150.2C664.1 148.8 665 147.6 670 146.3C675 145 683.3 143.3 690 142.5C696.7 141.7 703.3 142.8 710 141.3C716.7 139.9 723.3 136.2 730 133.8C736.7 131.4 743.3 128.9 750 127C756.7 125.1 763.3 123.7 770 122.5C776.7 121.3 783.3 120.9 790 120C796.7 119.1 803.3 118.2 810 117C816.7 115.8 823.3 114.1 830 112.5C836.7 110.9 844.2 109.4 850 107.5C855.8 105.6 860 103.2 865 101.3C870 99.4 874.2 97.8 880 96.3C885.8 94.8 893.3 93.2 900 92.5C906.7 91.8 913.3 92.2 920 92C926.7 91.8 933.3 91.6 940 91.3C946.7 91 954.2 90.5 960 90C965.8 89.5 970 88.4 975 88.3C980 88.2 984.2 88.6 990 89.5C995.8 90.4 1003.3 91.8 1010 93.8C1016.7 95.8 1023.3 98.4 1030 101.3C1036.7 104.2 1044.2 107.8 1050 111.3C1055.8 114.8 1060 119 1065 122.5C1070 126 1075 129.6 1080 132.5C1085 135.4 1090 138.1 1095 140C1100 141.9 1105.8 143.2 1110 143.8C1114.2 144.4 1116.5 144.2 1120 143.8C1123.5 143.4 1129.4 141.9 1131.3 141.5" fill="none" stroke="#25259e" stroke-width="1.25"/>
<path d="M48.3 442V480M53.6 411V430M64.2 392.7V408M69.5 374.4V397.8M74.8 363V380M85.3 356.7V374.4M90.6 333.3V351M106.5 340.8V356.7M111.7 332.2V348.5M122.3 338.4V353M132.9 342.6V369.3M138.2 325.6V343.3M148.7 312.2V327M154 321V335M159.3 302.6V320.4M164.6 293.7V303.3M169.8 287.8V299.6M175.1 285.6V296M201.5 315.2V339.6M212.1 306.3V327M222.7 288.2V306M233.2 267V293M238.5 254.3V268.7M243.8 256.1V270.2M275.5 254.3V293.4M286.1 259.1V275.4M291.3 251.4V262.8M296.6 243.1V259.1M312.5 264.2V279.8M317.8 244.3V268M328.3 242V252.4M333.6 238.3V252.4M338.9 223.5V239.1M344.2 209.4V228M354.7 198.2V205.7M370.6 183.9V202.4M375.9 178.7V194.3M381.2 166.9V186.9M402.3 186.9V204.6M407.6 175V188.3M412.8 169.8V189M418.1 159.4V183.9M423.4 154.3V169.8M428.7 147.6V163.9M434 147.6V159.4M444.5 145.4V158.7M460.4 178.7V198M471 158V202.4M481.5 175.7V204.6M486.8 149.1V171.3M492.1 146.7V158.5M502.7 147.4V167.4M507.9 125.9V139.3M513.2 99V111.4M518.5 85.6V101.9M534.3 97.8V123.3M539.6 97V120.7M550.2 116.3V142.2M560.8 154.8V193.3M566 112.8V140.6M571.3 106.8V126.4M576.6 101.5V116.9M603 170.7V204.7M613.6 182V237.3M618.9 160.7V194.7M624.2 136.9V182.8M629.4 116.1V134.6M634.7 108.7V120.6M645.3 108V126.5M650.6 104.3V124.3M655.8 102.5V117.6M661.1 91.7V106.5M677 90.2V118.8M682.3 88.4V115.4M708.7 122V145M714 112.7V131.7M719.2 96.9V108M724.5 85.7V101.3M729.8 76.1V88.4M756.2 92.4V119.8M761.5 82.8V93.9M766.8 71.4V88.7M777.3 78.3V90.2M782.6 59.8V83.5M787.9 57.1V77.6M803.8 59.8V73.9M819.6 86.2V126.2M824.9 76.9V92.4M830.2 78.8V92.4M835.5 65.7V82M840.7 56.1V68M861.9 55.4V84.3M883 73V122.6M888.3 60.4V88.5M909.4 96.7V130.7M914.7 102.6V138.9M920 86.3V109.3M930.5 83.3V114.4M941.1 90.7V122.1M946.4 70V84.7M962.2 90.1V129.8M972.8 96.1V124.5M988.7 124.1V191.7M1015.1 154.8V176.3M1020.3 145.2V163M1041.5 185.2V219M1052 192V219M1073.2 229.6V289.6M1078.5 202.2V224.4M1083.7 205.6V256.7M1089 198.9V214.4M1094.3 199.2V231.7M1099.6 130.7V150.8M1104.9 114.4V141.5M1115.4 95V132.4M1120.7 64.1V88.5M1126 42.1V64.9M1131.3 33.1V49.4" stroke="#111" stroke-width="1.1" fill="none"/>
<path d="M32.5 444.4V465.6M37.8 445.6V468.9M43.1 447.8V475.6M58.9 407.8V420M80 365.5V378.9M95.9 343.3V368.9M101.2 352.2V362.2M117 340.8V353.7M127.6 326.3V351.5M143.4 321V334.4M180.4 281.9V301.1M185.7 287.8V312.2M191 275.9V316.7M196.3 332.9V364.4M206.8 308.5V332.2M217.4 290.7V323.3M228 283.3V301.1M249.1 252.9V269.4M254.4 263.8V271.2M259.7 263.8V286M264.9 283.2V309.7M270.2 289V306.2M280.8 259.1V272.1M301.9 249.4V268.7M307.2 279.8V303.3M323 232.4V268.7M349.5 206.5V214.6M360 195V206.9M365.3 196.1V225.7M386.4 166.9V187.6M391.7 177.2V197.2M397 198.7V218.7M439.3 145.4V166.9M449.8 141.7V153.5M455.1 142.4V224.6M465.7 174.3V224.6M476.2 163.1V208.3M497.4 150.4V180M523.8 82.7V108.4M529.1 97.8V120.7M544.9 120V140.7M555.5 129.4V164.3M581.9 116.9V158.4M587.2 138.2V188M592.5 145.4V190M597.7 180.4V216M608.3 140V233.3M640 111.7V128.7M666.4 99.1V117.6M671.7 102.8V113.9M687.5 90.2V128M692.8 104.7V128M698.1 121.3V143.5M703.4 124.3V159.1M735.1 71.7V82.5M740.4 82.8V93.9M745.7 85V93.1M750.9 89.4V110.9M772.1 65V82.8M793.2 57.1V75.4M798.5 74.6V96.1M809 64.3V79.8M814.3 101.3V132.4M846 51.2V66.5M851.3 55.4V102M856.6 65.7V93.9M867.2 55.4V105M872.4 75.9V113.7M877.7 106.3V136.7M893.6 57.4V76.7M898.8 54.4V85.6M904.1 61.9V119.6M925.3 97.4V115.9M935.8 83.6V120.4M951.7 72.2V105.6M957 96.7V116.8M967.5 112.7V162.7M978.1 101.4V140.1M983.4 137.8V162.7M993.9 110.9V143.6M999.2 124.4V149.6M1004.5 151.1V178.5M1009.8 154.1V197M1025.6 165.2V198.5M1030.9 191.5V222.2M1036.2 208.3V257.4M1046.8 207.6V235.6M1057.3 216.6V256M1062.6 264.3V304.1M1067.9 275.3V321M1110.2 110.8V125" stroke="#d3123e" stroke-width="1.1" fill="none"/>
<rect x="30" y="450" width="5" height="11" fill="#d3123e"/><rect x="35.3" y="460" width="5" height="3.3" fill="#d3123e"/><rect x="40.6" y="455" width="5" height="14" fill="#d3123e"/><rect x="46.4" y="444.3" width="3.9" height="23.4" fill="#fff" stroke="#111" stroke-width="1.1"/><rect x="51.7" y="416.1" width="3.9" height="12.3" fill="#fff" stroke="#111" stroke-width="1.1"/><rect x="56.4" y="410" width="5" height="5.6" fill="#d3123e"/><rect x="62.2" y="394.5" width="3.9" height="11.7" fill="#fff" stroke="#111" stroke-width="1.1"/><rect x="67.5" y="381.5" width="3.9" height="8" fill="#fff" stroke="#111" stroke-width="1.1"/><rect x="72.8" y="368.3" width="3.9" height="3.4" fill="#fff" stroke="#111" stroke-width="1.1"/><rect x="78.1" y="370.5" width="3.9" height="2.3" fill="#fff" stroke="#d3123e" stroke-width="1.1"/><rect x="83.4" y="358.3" width="3.9" height="12.2" fill="#fff" stroke="#111" stroke-width="1.1"/><rect x="88.7" y="336.1" width="3.9" height="13.4" fill="#fff" stroke="#111" stroke-width="1.1"/><rect x="93.4" y="343.8" width="5" height="12.9" fill="#d3123e"/><rect x="98.7" y="353.3" width="5" height="5.6" fill="#d3123e"/><rect x="104.5" y="343.1" width="3.9" height="7.1" fill="#fff" stroke="#111" stroke-width="1.1"/><rect x="109.8" y="336.4" width="3.9" height="5" fill="#fff" stroke="#111" stroke-width="1.1"/><rect x="115.1" y="344.1" width="3.9" height="2" fill="#fff" stroke="#d3123e" stroke-width="1.1"/><rect x="120.4" y="340.9" width="3.9" height="4.9" fill="#fff" stroke="#111" stroke-width="1.1"/><rect x="125.1" y="329.3" width="5" height="22.2" fill="#d3123e"/><rect x="130.9" y="343.1" width="3.9" height="2.7" fill="#fff" stroke="#111" stroke-width="1.1"/><rect x="136.2" y="329" width="3.9" height="13.4" fill="#fff" stroke="#111" stroke-width="1.1"/><rect x="140.9" y="321" width="5" height="8.3" fill="#d3123e"/><rect x="146.2" y="324.9" width="5" height="1.2" fill="#111"/><rect x="151.5" y="323" width="5" height="1.5" fill="#111"/><rect x="157.3" y="303.8" width="3.9" height="12.4" fill="#fff" stroke="#111" stroke-width="1.1"/><rect x="162.1" y="298.9" width="5" height="3" fill="#111"/><rect x="167.9" y="291.2" width="3.9" height="7.2" fill="#fff" stroke="#111" stroke-width="1.1"/><rect x="172.6" y="287" width="5" height="3.7" fill="#111"/><rect x="177.9" y="284" width="5" height="14.1" fill="#d3123e"/><rect x="183.2" y="294.4" width="5" height="8.2" fill="#d3123e"/><rect x="188.5" y="275.9" width="5" height="35.6" fill="#d3123e"/><rect x="193.8" y="332.9" width="5" height="21.2" fill="#d3123e"/><rect x="199.6" y="315.7" width="3.9" height="23.4" fill="#fff" stroke="#111" stroke-width="1.1"/><rect x="204.3" y="312.2" width="5" height="16.3" fill="#d3123e"/><rect x="210.2" y="309" width="3.9" height="13.8" fill="#fff" stroke="#111" stroke-width="1.1"/><rect x="214.9" y="297.4" width="5" height="14.1" fill="#d3123e"/><rect x="220.7" y="291.2" width="3.9" height="13.9" fill="#fff" stroke="#111" stroke-width="1.1"/><rect x="225.5" y="290.7" width="5" height="6.7" fill="#d3123e"/><rect x="231.3" y="268" width="3.9" height="20.3" fill="#fff" stroke="#111" stroke-width="1.1"/><rect x="236" y="260.2" width="5" height="1.2" fill="#111"/><rect x="241.9" y="259.9" width="3.9" height="4.3" fill="#fff" stroke="#111" stroke-width="1.1"/><rect x="246.6" y="255.1" width="5" height="11.4" fill="#d3123e"/><rect x="252.4" y="266.4" width="3.9" height="2" fill="#fff" stroke="#d3123e" stroke-width="1.1"/><rect x="257.2" y="267.2" width="5" height="14.5" fill="#d3123e"/><rect x="262.4" y="283.2" width="5" height="5.2" fill="#d3123e"/><rect x="267.7" y="294.3" width="5" height="4.3" fill="#d3123e"/><rect x="273.5" y="259.6" width="3.9" height="33.3" fill="#fff" stroke="#111" stroke-width="1.1"/><rect x="278.3" y="262.8" width="5" height="8.1" fill="#d3123e"/><rect x="284.1" y="260" width="3.9" height="12.2" fill="#fff" stroke="#111" stroke-width="1.1"/><rect x="289.4" y="253.6" width="3.9" height="7.2" fill="#fff" stroke="#111" stroke-width="1.1"/><rect x="294.7" y="245.5" width="3.9" height="6.4" fill="#fff" stroke="#111" stroke-width="1.1"/><rect x="299.4" y="250.2" width="5" height="11.8" fill="#d3123e"/><rect x="305.2" y="280.3" width="3.9" height="5.6" fill="#fff" stroke="#d3123e" stroke-width="1.1"/><rect x="310" y="265.9" width="5" height="1.2" fill="#111"/><rect x="315.8" y="245.5" width="3.9" height="17.5" fill="#fff" stroke="#111" stroke-width="1.1"/><rect x="320.5" y="233.9" width="5" height="19.5" fill="#d3123e"/><rect x="325.8" y="247" width="5" height="1.2" fill="#111"/><rect x="331.7" y="241.5" width="3.9" height="3" fill="#fff" stroke="#111" stroke-width="1.1"/><rect x="336.4" y="226.5" width="5" height="6.6" fill="#111"/><rect x="342.2" y="211.9" width="3.9" height="11.9" fill="#fff" stroke="#111" stroke-width="1.1"/><rect x="347" y="210.2" width="5" height="2.6" fill="#d3123e"/><rect x="352.8" y="200.3" width="3.9" height="4.6" fill="#fff" stroke="#111" stroke-width="1.1"/><rect x="357.5" y="196.1" width="5" height="7.4" fill="#d3123e"/><rect x="362.8" y="204.3" width="5" height="1.3" fill="#d3123e"/><rect x="368.6" y="193.6" width="3.9" height="2" fill="#fff" stroke="#111" stroke-width="1.1"/><rect x="373.9" y="181.7" width="3.9" height="5.4" fill="#fff" stroke="#111" stroke-width="1.1"/><rect x="379.2" y="169.6" width="3.9" height="15.3" fill="#fff" stroke="#111" stroke-width="1.1"/><rect x="383.9" y="169.8" width="5" height="14.1" fill="#d3123e"/><rect x="389.2" y="178" width="5" height="13.3" fill="#d3123e"/><rect x="394.5" y="202.4" width="5" height="2.2" fill="#d3123e"/><rect x="400.3" y="188.8" width="3.9" height="10.9" fill="#fff" stroke="#111" stroke-width="1.1"/><rect x="405.1" y="181.8" width="5" height="1.2" fill="#111"/><rect x="410.9" y="172.2" width="3.9" height="11.2" fill="#fff" stroke="#111" stroke-width="1.1"/><rect x="416.2" y="162.9" width="3.9" height="16.8" fill="#fff" stroke="#111" stroke-width="1.1"/><rect x="420.9" y="155" width="5" height="5.2" fill="#111"/><rect x="426.2" y="158.7" width="5" height="1.8" fill="#111"/><rect x="432" y="151.8" width="3.9" height="2" fill="#fff" stroke="#111" stroke-width="1.1"/><rect x="436.8" y="149.1" width="5" height="12.6" fill="#d3123e"/><rect x="442.6" y="146.6" width="3.9" height="10.9" fill="#fff" stroke="#111" stroke-width="1.1"/><rect x="447.3" y="143.9" width="5" height="9.6" fill="#d3123e"/><rect x="452.6" y="151.3" width="5" height="73.3" fill="#d3123e"/><rect x="458.4" y="185.9" width="3.9" height="10.8" fill="#fff" stroke="#111" stroke-width="1.1"/><rect x="463.7" y="189.6" width="3.9" height="15.7" fill="#fff" stroke="#d3123e" stroke-width="1.1"/><rect x="468.5" y="172" width="5" height="6.7" fill="#111"/><rect x="473.7" y="170.6" width="5" height="24.4" fill="#d3123e"/><rect x="479.6" y="182.2" width="3.9" height="18.2" fill="#fff" stroke="#111" stroke-width="1.1"/><rect x="484.9" y="154" width="3.9" height="16.8" fill="#fff" stroke="#111" stroke-width="1.1"/><rect x="489.6" y="152.7" width="5" height="1.2" fill="#111"/><rect x="494.9" y="151.1" width="5" height="16.3" fill="#d3123e"/><rect x="500.7" y="152.8" width="3.9" height="12.3" fill="#fff" stroke="#111" stroke-width="1.1"/><rect x="506" y="132.1" width="3.9" height="6.7" fill="#fff" stroke="#111" stroke-width="1.1"/><rect x="511.3" y="99.5" width="3.9" height="11.4" fill="#fff" stroke="#111" stroke-width="1.1"/><rect x="516" y="91.1" width="5" height="3" fill="#111"/><rect x="521.3" y="85.2" width="5" height="9.3" fill="#d3123e"/><rect x="526.6" y="105.2" width="5" height="14.8" fill="#d3123e"/><rect x="531.8" y="97.8" width="5" height="14.5" fill="#111"/><rect x="537.1" y="97" width="5" height="11.1" fill="#111"/><rect x="542.4" y="131.9" width="5" height="8.1" fill="#d3123e"/><rect x="548.2" y="130.1" width="3.9" height="9.4" fill="#fff" stroke="#111" stroke-width="1.1"/><rect x="553" y="132.9" width="5" height="26.1" fill="#d3123e"/><rect x="558.8" y="156.1" width="3.9" height="11.4" fill="#fff" stroke="#111" stroke-width="1.1"/><rect x="564.1" y="115.9" width="3.9" height="17.9" fill="#fff" stroke="#111" stroke-width="1.1"/><rect x="569.4" y="110.3" width="3.9" height="11.5" fill="#fff" stroke="#111" stroke-width="1.1"/><rect x="574.1" y="102.1" width="5" height="7.1" fill="#111"/><rect x="579.4" y="117.7" width="5" height="35.4" fill="#d3123e"/><rect x="585.2" y="154.8" width="3.9" height="22" fill="#fff" stroke="#d3123e" stroke-width="1.1"/><rect x="590" y="161.3" width="5" height="16" fill="#d3123e"/><rect x="595.2" y="189.3" width="5" height="10" fill="#d3123e"/><rect x="601.1" y="190.1" width="3.9" height="5.4" fill="#fff" stroke="#111" stroke-width="1.1"/><rect x="605.8" y="152" width="5" height="79.3" fill="#d3123e"/><rect x="611.6" y="205.2" width="3.9" height="17.6" fill="#fff" stroke="#111" stroke-width="1.1"/><rect x="616.9" y="165.8" width="3.9" height="25" fill="#fff" stroke="#111" stroke-width="1.1"/><rect x="622.2" y="141.8" width="3.9" height="26.4" fill="#fff" stroke="#111" stroke-width="1.1"/><rect x="627.5" y="124" width="3.9" height="6.1" fill="#fff" stroke="#111" stroke-width="1.1"/><rect x="632.8" y="109.5" width="3.9" height="9.8" fill="#fff" stroke="#111" stroke-width="1.1"/><rect x="637.5" y="122.7" width="5" height="1.2" fill="#d3123e"/><rect x="642.8" y="116.2" width="5" height="1.2" fill="#111"/><rect x="648.6" y="109.5" width="3.9" height="12" fill="#fff" stroke="#111" stroke-width="1.1"/><rect x="653.3" y="102.5" width="5" height="4" fill="#111"/><rect x="658.6" y="101.8" width="5" height="1.2" fill="#111"/><rect x="663.9" y="99.1" width="5" height="12.3" fill="#d3123e"/><rect x="669.2" y="112.2" width="5" height="1.2" fill="#d3123e"/><rect x="675" y="95.6" width="3.9" height="19.3" fill="#fff" stroke="#111" stroke-width="1.1"/><rect x="680.3" y="89.9" width="3.9" height="14.6" fill="#fff" stroke="#111" stroke-width="1.1"/><rect x="685" y="94.6" width="5" height="23" fill="#d3123e"/><rect x="690.3" y="105" width="5" height="17.5" fill="#d3123e"/><rect x="695.6" y="127.2" width="5" height="1.5" fill="#d3123e"/><rect x="700.9" y="126.5" width="5" height="32.1" fill="#d3123e"/><rect x="706.2" y="137.2" width="5" height="1.2" fill="#111"/><rect x="712" y="114.4" width="3.9" height="16.8" fill="#fff" stroke="#111" stroke-width="1.1"/><rect x="717.3" y="99.3" width="3.9" height="4" fill="#fff" stroke="#111" stroke-width="1.1"/><rect x="722.6" y="87" width="3.9" height="13.8" fill="#fff" stroke="#111" stroke-width="1.1"/><rect x="727.9" y="78.5" width="3.9" height="9.4" fill="#fff" stroke="#111" stroke-width="1.1"/><rect x="732.6" y="75.4" width="5" height="4.4" fill="#d3123e"/><rect x="737.9" y="87.8" width="5" height="1.2" fill="#d3123e"/><rect x="743.2" y="90.1" width="5" height="1.2" fill="#d3123e"/><rect x="748.4" y="90.2" width="5" height="20.7" fill="#d3123e"/><rect x="753.7" y="99.1" width="5" height="7.4" fill="#111"/><rect x="759.5" y="89.6" width="3.9" height="3.5" fill="#fff" stroke="#111" stroke-width="1.1"/><rect x="764.8" y="73.6" width="3.9" height="13.9" fill="#fff" stroke="#111" stroke-width="1.1"/><rect x="769.6" y="73.4" width="5" height="8.6" fill="#d3123e"/><rect x="775.4" y="82.3" width="3.9" height="2" fill="#fff" stroke="#111" stroke-width="1.1"/><rect x="780.7" y="65.5" width="3.9" height="14.6" fill="#fff" stroke="#111" stroke-width="1.1"/><rect x="786" y="61.5" width="3.9" height="11.1" fill="#fff" stroke="#111" stroke-width="1.1"/><rect x="790.7" y="61.3" width="5" height="4.4" fill="#d3123e"/><rect x="796" y="76.1" width="5" height="3" fill="#d3123e"/><rect x="801.3" y="64" width="5" height="9.4" fill="#111"/><rect x="806.5" y="67.2" width="5" height="8.2" fill="#d3123e"/><rect x="811.8" y="102.8" width="5" height="27.4" fill="#d3123e"/><rect x="817.7" y="100" width="3.9" height="24.5" fill="#fff" stroke="#111" stroke-width="1.1"/><rect x="822.4" y="84.1" width="5" height="1.2" fill="#111"/><rect x="828.2" y="84.8" width="3.9" height="2.7" fill="#fff" stroke="#111" stroke-width="1.1"/><rect x="833.5" y="71.9" width="3.9" height="9.6" fill="#fff" stroke="#111" stroke-width="1.1"/><rect x="838.8" y="61.1" width="3.9" height="3.4" fill="#fff" stroke="#111" stroke-width="1.1"/><rect x="843.5" y="51.7" width="5" height="10.3" fill="#d3123e"/><rect x="848.8" y="61.3" width="5" height="3" fill="#d3123e"/><rect x="854.1" y="72.4" width="5" height="3" fill="#d3123e"/><rect x="859.9" y="61.8" width="3.9" height="21.5" fill="#fff" stroke="#111" stroke-width="1.1"/><rect x="864.7" y="58.3" width="5" height="25.2" fill="#d3123e"/><rect x="869.9" y="81.1" width="5" height="16.3" fill="#d3123e"/><rect x="875.2" y="113.4" width="5" height="15.1" fill="#d3123e"/><rect x="881" y="78.9" width="3.9" height="43.2" fill="#fff" stroke="#111" stroke-width="1.1"/><rect x="886.3" y="66.1" width="3.9" height="17.2" fill="#fff" stroke="#111" stroke-width="1.1"/><rect x="891.1" y="62.1" width="5" height="12.3" fill="#d3123e"/><rect x="896.3" y="61.1" width="5" height="9.6" fill="#d3123e"/><rect x="901.6" y="68.5" width="5" height="47.4" fill="#d3123e"/><rect x="906.9" y="114.4" width="5" height="1.2" fill="#111"/><rect x="912.7" y="112.7" width="3.9" height="7.2" fill="#fff" stroke="#111" stroke-width="1.1"/><rect x="918" y="97.2" width="3.9" height="9.8" fill="#fff" stroke="#111" stroke-width="1.1"/><rect x="922.8" y="104.1" width="5" height="1.5" fill="#d3123e"/><rect x="928.6" y="86.8" width="3.9" height="24.9" fill="#fff" stroke="#111" stroke-width="1.1"/><rect x="933.3" y="89" width="5" height="24.8" fill="#d3123e"/><rect x="939.2" y="94.8" width="3.9" height="18.5" fill="#fff" stroke="#111" stroke-width="1.1"/><rect x="944.4" y="72.7" width="3.9" height="11.5" fill="#fff" stroke="#111" stroke-width="1.1"/><rect x="949.2" y="72.7" width="5" height="13.7" fill="#d3123e"/><rect x="955" y="98" width="3.9" height="7.6" fill="#fff" stroke="#d3123e" stroke-width="1.1"/><rect x="960.3" y="97.5" width="3.9" height="21.2" fill="#fff" stroke="#111" stroke-width="1.1"/><rect x="965.6" y="122.4" width="3.9" height="5" fill="#fff" stroke="#d3123e" stroke-width="1.1"/><rect x="970.9" y="101.9" width="3.9" height="13.8" fill="#fff" stroke="#111" stroke-width="1.1"/><rect x="975.6" y="109.1" width="5" height="7.7" fill="#d3123e"/><rect x="980.9" y="140.1" width="5" height="11.3" fill="#d3123e"/><rect x="986.7" y="130.2" width="3.9" height="36.7" fill="#fff" stroke="#111" stroke-width="1.1"/><rect x="991.4" y="129.5" width="5" height="5.9" fill="#d3123e"/><rect x="996.7" y="131.9" width="5" height="5.5" fill="#d3123e"/><rect x="1002" y="151.1" width="5" height="27" fill="#d3123e"/><rect x="1007.3" y="177" width="5" height="16.3" fill="#d3123e"/><rect x="1013.1" y="167.9" width="3.9" height="7.9" fill="#fff" stroke="#111" stroke-width="1.1"/><rect x="1017.8" y="157.8" width="5" height="3.4" fill="#111"/><rect x="1023.1" y="167.7" width="5" height="29.3" fill="#d3123e"/><rect x="1029" y="204.1" width="3.9" height="8.4" fill="#fff" stroke="#d3123e" stroke-width="1.1"/><rect x="1033.7" y="208.3" width="5" height="35.2" fill="#d3123e"/><rect x="1039.5" y="214.1" width="3.9" height="2" fill="#fff" stroke="#111" stroke-width="1.1"/><rect x="1044.8" y="223.1" width="3.9" height="2" fill="#fff" stroke="#d3123e" stroke-width="1.1"/><rect x="1049.5" y="206" width="5" height="3.6" fill="#111"/><rect x="1054.8" y="223.2" width="5" height="32.8" fill="#d3123e"/><rect x="1060.1" y="264.3" width="5" height="35.2" fill="#d3123e"/><rect x="1065.4" y="285" width="5" height="25" fill="#d3123e"/><rect x="1071.2" y="234.5" width="3.9" height="53.7" fill="#fff" stroke="#111" stroke-width="1.1"/><rect x="1076.5" y="216.1" width="3.9" height="6.7" fill="#fff" stroke="#111" stroke-width="1.1"/><rect x="1081.8" y="213.8" width="3.9" height="26.8" fill="#fff" stroke="#111" stroke-width="1.1"/><rect x="1087.1" y="201.6" width="3.9" height="10.1" fill="#fff" stroke="#111" stroke-width="1.1"/><rect x="1092.4" y="200.7" width="3.9" height="4.6" fill="#fff" stroke="#111" stroke-width="1.1"/><rect x="1097.6" y="135.8" width="3.9" height="9.3" fill="#fff" stroke="#111" stroke-width="1.1"/><rect x="1102.9" y="119" width="3.9" height="15" fill="#fff" stroke="#111" stroke-width="1.1"/><rect x="1107.7" y="112.5" width="5" height="10.2" fill="#d3123e"/><rect x="1113.5" y="95.5" width="3.9" height="30.3" fill="#fff" stroke="#111" stroke-width="1.1"/><rect x="1118.8" y="65.4" width="3.9" height="21" fill="#fff" stroke="#111" stroke-width="1.1"/><rect x="1124" y="45" width="3.9" height="15.7" fill="#fff" stroke="#111" stroke-width="1.1"/><rect x="1129.3" y="36.6" width="3.9" height="2" fill="#fff" stroke="#111" stroke-width="1.1"/>
<rect x="450" y="81" width="681.5" height="145" fill="none" stroke="#0000f5" stroke-width="2"/>
</g>
<path d="M-0.6 471.4H69.3" stroke="#1e961e" stroke-width="1.5" stroke-dasharray="3.5,2.1"/>
<text x="1004" y="65.8" font-family="Liberation Sans, Arial, sans-serif" font-size="10.6" font-weight="bold" fill="#111" stroke="#111" stroke-width="0.2">New Stage 2 attempt</text>
<text x="951.3" y="269.8" font-family="Liberation Sans, Arial, sans-serif" font-size="10.5" font-weight="bold" fill="#111" stroke="#111" stroke-width="0.2">Failed Stage 4</text>
<text x="951.3" y="281.8" font-family="Liberation Sans, Arial, sans-serif" font-size="10.5" font-weight="bold" fill="#111" stroke="#111" stroke-width="0.2">breakdown</text>
<text x="951.3" y="293.8" font-family="Liberation Sans, Arial, sans-serif" font-size="10.5" font-weight="bold" fill="#111" stroke="#111" stroke-width="0.2">attempt</text>
<path d="M1010.6 255.2L1024 240" stroke="#111" stroke-width="2"/>
<polygon points="1031.6,231.3 1018.6,236.8 1027.6,244.4" fill="#111"/>
<text x="45" y="36.2" font-family="DejaVu Sans Mono, monospace" font-size="9.1" fill="#111" stroke="#111" stroke-width="0.2">$SPX (Daily) 7041.28</text>
<path d="M34.3 29.3v7.5M38.8 29.8v6.5" stroke="#111" stroke-width="0.9"/><rect x="33" y="30.6" width="2.6" height="4.2" fill="#111"/><rect x="37.7" y="31" width="2.3" height="3.6" fill="#fff" stroke="#111" stroke-width="0.9"/>
<path d="M33 43.1h8" stroke="#1c1c9c" stroke-width="1.6"/>
<text x="43" y="46.3" font-family="Liberation Sans, Arial, sans-serif" font-size="8.9" fill="#1c1c9c" stroke="#1c1c9c" stroke-width="0.2">MA(50) 6764.28</text>
<path d="M33 53.1h8" stroke="#d21a44" stroke-width="1.6"/>
<text x="43" y="56.3" font-family="Liberation Sans, Arial, sans-serif" font-size="8.9" fill="#d21a44" stroke="#d21a44" stroke-width="0.2">MA(200) 6679.15</text>
<path d="M33 63.1h8" stroke="#d99a22" stroke-width="1.6"/>
<text x="43" y="66.3" font-family="Liberation Sans, Arial, sans-serif" font-size="8.9" fill="#d99a22" stroke="#d99a22" stroke-width="0.2">KELT(21,1.0,10) 6674.74 - 6762.64 - 6850.54</text>
<path d="M33 73.1h8" stroke="#7f8c96" stroke-width="1.6"/>
<text x="43" y="76.3" font-family="Liberation Sans, Arial, sans-serif" font-size="8.9" fill="#7f8c96" stroke="#7f8c96" stroke-width="0.2">KELT(21,2.0,10) 6586.84 - 6762.64 - 6938.44</text>
<path d="M33 83.1h8" stroke="#8a2be2" stroke-width="1.6"/>
<text x="43" y="86.3" font-family="Liberation Sans, Arial, sans-serif" font-size="8.9" fill="#8a2be2" stroke="#8a2be2" stroke-width="0.2">KELT(21,3.0,10) 6498.93 - 6762.64 - 7026.35</text>
<path d="M33.5 96.5v-4M35.5 96.5v-6M37.5 96.5v-5M39.5 96.5v-3" stroke="#333" stroke-width="1.4"/>
<text x="43" y="96.3" font-family="Liberation Sans, Arial, sans-serif" font-size="8.9" fill="#333" stroke="#333" stroke-width="0.2">Volume 2,964,847,616</text>
<path d="M31 531.5H1162M31 617.4H1162" stroke="#2a2aa2" stroke-width="1.3"/>
<g clip-path="url(#ic)">
<polyline points="27.2,543 32.8,596 38.1,585.3 43.4,579.4 48.6,543 53.9,532 59.2,558.7 64.5,535 69.8,525 75.1,518 80.3,511 85.6,516 90.9,511 96.2,522 101.5,530 106.8,528 112,532 117.3,540 122.6,545 127.9,574.6 133.2,565.2 138.5,548.6 143.7,552.1 149,564 154.3,540 159.6,532 164.9,535 170.1,540 175.4,548.3 180.7,550 186,577 191.3,591.2 196.6,603.8 201.8,582.9 207.1,589.6 212.4,588.9 217.7,587.2 223,577.7 228.3,581.8 233.5,561 238.8,542.2 244.1,555.7 249.4,568.2 254.7,569.2 260,551.7 265.2,549.8 270.5,558.8 275.8,515.4 281.1,532 286.4,534.4 291.6,527.3 296.9,533.6 302.2,533.6 307.5,561.6 312.8,565.2 318.1,552.6 323.3,558.8 328.6,556.4 333.9,571.1 339.2,584.8 344.5,543.8 349.8,563.4 355,578.2 360.3,592.9 365.6,588.2 370.9,574.2 376.2,581.8 381.5,584.1 386.7,574.2 392,580.6 397.3,596.7 402.6,571.1 407.9,568.7 413.1,558.8 418.4,561.6 423.7,564 429,551.4 434.3,562.8 439.6,569.4 444.8,567.5 450.1,585.3 455.4,619.7 460.7,606.6 466,589.2 471.3,588.5 476.5,607.8 481.8,592.9 487.1,566.4 492.4,552.6 497.7,569.2 503,556.9 508.2,555.7 513.5,547.9 518.8,575.8 524.1,604.7 529.4,605.5 534.6,598.3 539.9,605.5 545.2,608.5 550.5,597.2 555.8,601.9 561.1,585.3 566.3,577 571.6,564.5 576.9,560.4 582.2,577 587.5,587 592.8,611.8 598,610.2 603.3,614.9 608.6,621.3 613.9,580.6 619.2,576.3 624.5,545 629.7,529.6 635,517.8 640.3,539.1 645.6,543.1 650.9,534.4 656.1,543.1 661.4,547.4 666.7,558.1 672,571.6 677.3,552.1 682.6,532.7 687.8,539.1 693.1,537.4 698.4,550.2 703.7,553.3 709,555 714.3,558.1 719.5,543.1 724.8,550.2 730.1,542.7 735.4,542.7 740.7,537.4 746,543.1 751.2,584.8 756.5,561.1 761.8,548.6 767.1,530.8 772.4,559.7 777.6,533.6 782.9,532 788.2,541.5 793.5,543.1 798.8,537.4 804.1,532 809.3,539.5 814.6,564.3 819.9,546.9 825.2,547.9 830.5,556.9 835.8,550.5 841,556.4 846.3,569.4 851.6,566.8 856.9,562.1 862.2,562.1 867.5,562.1 872.7,547.9 878,558.1 883.3,538.4 888.6,543.1 893.9,538.4 899.1,537.4 904.4,556.9 909.7,549.8 915,549.8 920.3,538.4 925.6,550.2 930.8,546.9 936.1,559.2 941.4,555.7 946.7,558.1 952,543.1 957.3,546.9 962.5,555.7 967.8,579.4 973.1,576.3 978.4,593.6 983.7,604.7 989,607.1 994.2,618.5 999.5,625.6 1004.8,635.1 1010.1,631.5 1015.4,628 1020.6,623.7 1025.9,640.3 1031.2,641.7 1036.5,653.6 1041.8,642.2 1047.1,638.6 1052.3,631 1057.6,643.4 1062.9,652.8 1068.2,643.4 1073.5,605.5 1078.8,586.5 1084,572.3 1089.3,556.9 1094.6,569.2 1099.9,523.2 1105.2,526.1 1110.5,539.1 1115.7,530.3 1121,526.1 1126.3,528.9 1131.6,523.2" fill="none" stroke="#111" stroke-width="1.5" stroke-linejoin="round"/>
</g>
<path d="M33 505.5h8" stroke="#111" stroke-width="1.6"/>
<text x="44.7" y="508.6" font-family="DejaVu Sans Mono, monospace" font-size="9" letter-spacing="0.7" fill="#111" stroke="#111" stroke-width="0.2">$SPXA20R 74.20</text>
<rect x="40.5" y="518" width="157" height="29.5" fill="#999" opacity="0.6"/>
<rect x="38.7" y="516.2" width="157" height="29.5" fill="#fff" stroke="#aaa" stroke-width="0.8"/>
<text x="41.2" y="528.3" font-family="Liberation Sans, Arial, sans-serif" font-size="10.6" font-weight="bold" fill="#1010ee" stroke="#1010ee" stroke-width="0.2">Percentage of S&amp;P 500</text>
<text x="41.2" y="540.3" font-family="Liberation Sans, Arial, sans-serif" font-size="10.6" font-weight="bold" fill="#1010ee" stroke="#1010ee" stroke-width="0.2">stocks above their 20 day MA</text>
</svg>
</body></html>
